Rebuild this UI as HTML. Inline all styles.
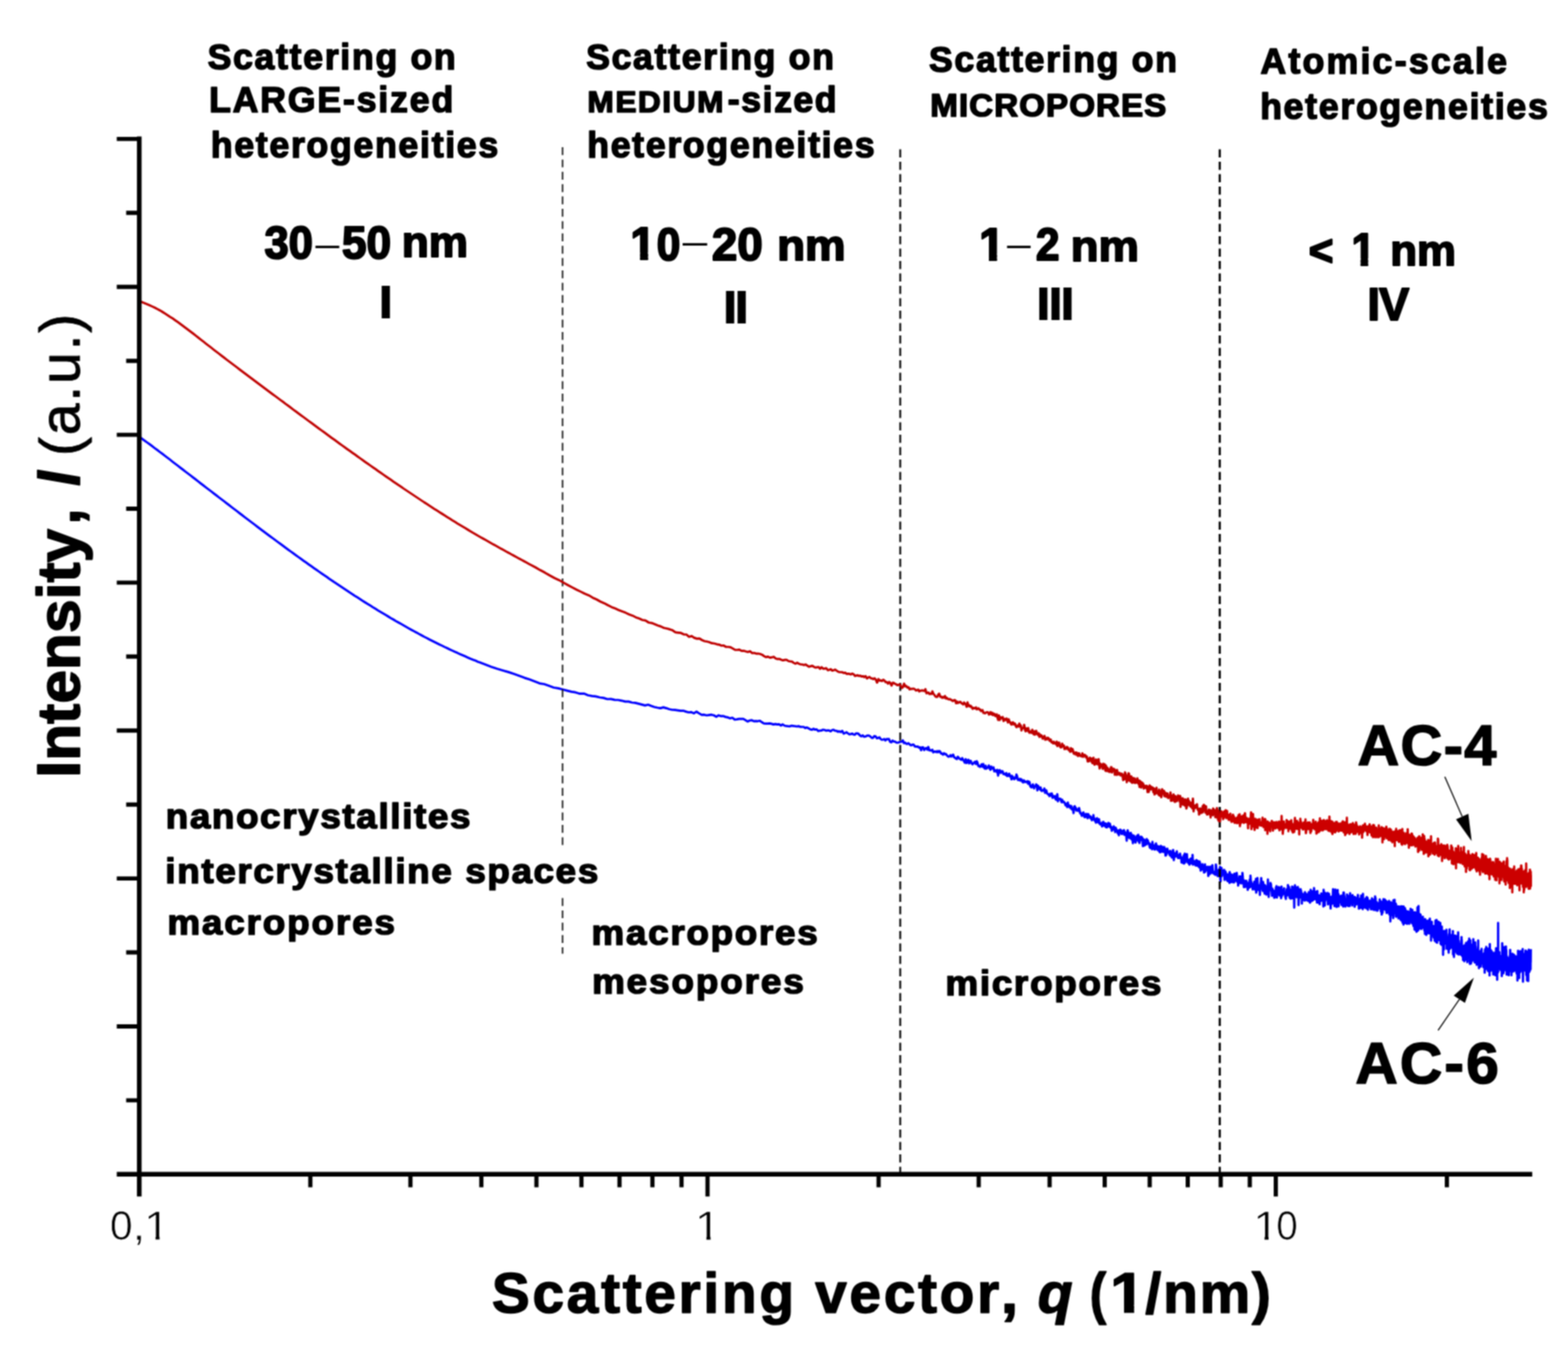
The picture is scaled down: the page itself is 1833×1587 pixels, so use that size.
<!DOCTYPE html>
<html lang="en"><head><meta charset="utf-8"><title>Intensity, I (a.u.) vs Scattering vector, q (1/nm): AC-4 and AC-6</title>
<style>
html,body{margin:0;padding:0;background:#fff;}
body{width:1833px;height:1587px;overflow:hidden;}
svg{display:block;}
svg text{font-family:"Liberation Sans", sans-serif;white-space:pre;}
</style></head>
<body>
<svg width="1833" height="1587" viewBox="0 0 1833 1587">
<filter id="soft" filterUnits="userSpaceOnUse" x="0" y="0" width="1833" height="1587" color-interpolation-filters="sRGB"><feConvolveMatrix order="3" kernelMatrix="1 2 1 2 4 2 1 2 1" divisor="16" edgeMode="duplicate" preserveAlpha="true"/></filter>
<g filter="url(#soft)">
<rect x="-20" y="-20" width="1873" height="1627" fill="#fff"/>
<path d="M162.9 510.5L165.9 512.7L168.9 514.8L171.9 517.0L174.9 519.2L177.9 521.4L180.9 523.7L183.9 525.9L186.9 528.2L189.9 530.4L192.9 532.7L195.9 535.0L198.9 537.3L201.9 539.7L204.9 542.0L207.9 544.3L210.9 546.6L213.9 548.9L216.9 551.2L219.9 553.5L222.9 555.8L225.9 558.1L228.9 560.4L231.9 562.7L234.9 565.1L237.9 567.4L240.9 569.7L243.9 572.0L246.9 574.3L249.9 576.6L252.9 578.9L255.9 581.2L258.9 583.5L261.9 585.8L264.9 588.1L267.9 590.4L270.9 592.7L273.9 595.0L276.9 597.3L279.9 599.6L282.9 601.9L285.9 604.2L288.9 606.5L291.9 608.8L294.9 611.0L297.9 613.3L300.9 615.6L303.9 617.8L306.9 620.1L309.9 622.3L312.9 624.6L315.9 626.8L318.9 629.0L321.9 631.3L324.9 633.5L327.9 635.7L330.9 637.9L333.9 640.1L336.9 642.3L339.9 644.5L342.9 646.7L345.9 648.8L348.9 651.0L351.9 653.2L354.9 655.3L357.9 657.4L360.9 659.6L363.9 661.7L366.9 663.8L369.9 665.9L372.9 668.0L375.9 670.1L378.9 672.2L381.9 674.2L384.9 676.3L387.9 678.3L390.9 680.4L393.9 682.4L396.9 684.4L399.9 686.4L402.9 688.4L405.9 690.4L408.9 692.4L411.9 694.3L414.9 696.3L417.9 698.2L420.9 700.1L423.9 702.1L426.9 704.0L429.9 705.8L432.9 707.7L435.9 709.6L438.9 711.4L441.9 713.3L444.9 715.1L447.9 716.9L450.9 718.7L453.9 720.5L456.9 722.3L459.9 724.0L462.9 725.8L465.9 727.5L468.9 729.2L471.9 730.9L474.9 732.6L477.9 734.3L480.9 736.0L483.9 737.6L486.9 739.2L489.9 740.9L492.9 742.5L495.9 744.1L498.9 745.6L501.9 747.2L504.9 748.7L507.9 750.2L510.9 751.7L513.9 753.2L516.9 754.6L519.9 756.1L522.9 757.5L525.9 759.0L528.9 760.4L531.9 761.8L534.9 763.1L537.9 764.5L540.9 765.8L543.9 767.1L546.9 768.4L549.9 769.7L552.9 770.9L555.9 772.1L558.9 773.4L560.0 773.8L567.2 776.6L574.2 779.2L581.1 781.5L587.7 783.5L594.3 785.4L600.7 787.5L606.9 789.8L613.1 792.1L619.1 794.0L624.9 796.3L630.7 798.6L636.3 799.5L641.9 801.5L647.3 803.5L652.6 804.4L657.9 805.7L663.0 807.1L668.1 808.4L673.0 809.2L677.9 810.7L682.7 810.6L687.4 812.5L692.1 813.3L696.6 813.9L701.1 815.0L705.6 815.6L709.9 817.0L714.2 816.9L718.5 817.9L722.6 818.0L726.7 818.8L730.8 819.9L734.8 819.9L738.7 821.0L742.6 821.4L746.5 822.4L750.3 823.4L754.0 824.4L757.7 823.5L761.4 825.0L765.0 826.2L768.5 827.0L772.0 827.6L775.5 826.6L778.9 827.6L782.3 828.8L785.7 829.5L789.0 829.7L792.2 830.2L795.5 830.7L798.7 830.5L801.9 831.6L805.0 832.5L808.1 832.2L811.1 833.6L814.2 831.6L817.2 833.6L820.2 835.3L823.1 835.2L826.0 836.0L828.9 835.6L831.7 835.2L834.6 836.0L837.4 837.7L840.1 835.9L842.9 836.9L845.6 836.8L848.3 837.9L851.0 838.4L853.6 839.4L856.2 838.8L858.8 840.9L861.4 840.6L863.9 840.1L866.5 840.1L869.0 840.1L871.5 841.6L873.9 843.2L876.4 842.0L878.8 841.7L881.2 842.8L883.6 842.7L885.9 842.8L888.3 842.3L890.6 844.0L892.9 845.4L895.2 845.6L897.5 845.7L899.7 845.4L901.9 845.9L904.2 846.6L906.4 846.1L908.6 846.6L910.7 846.4L912.9 847.8L915.0 846.5L917.1 848.0L919.2 848.4L921.3 848.7L923.4 848.8L925.4 848.1L927.5 848.3L929.5 848.7L931.5 849.0L933.5 848.6L935.5 849.4L937.5 849.5L939.5 849.5L941.4 850.8L943.3 850.1L945.3 851.2L947.2 852.4L949.1 852.8L951.0 851.7L952.8 852.7L954.7 852.3L956.5 854.3L958.4 853.9L960.2 853.7L962.0 852.8L963.8 853.0L965.6 853.9L967.4 853.6L969.2 853.7L970.9 854.7L972.7 853.2L974.4 852.8L976.1 853.9L977.8 854.0L979.5 855.1L981.2 854.6L982.9 855.5L984.6 854.1L986.3 857.4L987.9 856.6L989.6 855.7L991.2 857.0L992.8 858.1L994.5 857.9L996.1 857.3L997.7 858.2L999.3 858.7L1000.8 857.0L1002.4 857.0L1004.0 858.0L1005.5 859.7L1007.1 860.4L1008.6 859.4L1010.2 861.0L1011.7 860.7L1013.2 859.9L1014.7 859.5L1016.2 859.9L1017.7 860.8L1019.2 862.4L1020.7 862.1L1022.2 860.2L1023.6 860.5L1025.1 862.8L1026.5 862.5L1028.0 861.6L1029.4 863.5L1030.8 864.5L1032.3 864.2L1033.7 863.7L1035.1 865.3L1036.5 863.7L1037.9 863.8L1039.2 863.7L1040.6 867.0L1042.0 867.5L1043.4 865.5L1044.7 866.4L1046.1 866.6L1047.4 867.4L1048.8 868.0L1050.1 867.7L1051.4 867.2L1052.8 867.0L1054.1 866.7L1055.4 865.2L1056.7 868.4L1058.0 867.8L1059.3 869.1L1060.6 869.3L1061.8 868.5L1063.1 869.5L1064.4 870.9L1065.7 870.9L1066.9 870.0L1068.2 870.4L1069.4 872.3L1070.7 872.3L1071.9 872.7L1073.1 872.4L1074.4 873.8L1075.6 873.4L1076.8 876.7L1078.0 873.3L1079.2 873.4L1080.4 876.6L1081.6 874.8L1082.8 874.2L1084.0 876.1L1085.2 872.9L1086.4 876.8L1087.5 876.6L1088.7 877.2L1089.9 876.2L1091.0 879.2L1092.2 878.3L1093.3 878.2L1094.5 879.0L1095.6 877.8L1096.7 879.0L1097.9 877.6L1099.0 878.4L1100.1 880.6L1101.2 880.7L1102.3 881.9L1103.5 880.3L1104.6 881.4L1105.7 881.0L1106.8 882.6L1107.8 883.6L1108.9 884.3L1110.0 884.0L1111.1 882.5L1112.2 884.2L1113.2 882.8L1114.3 881.9L1115.4 885.1L1116.4 885.3L1117.5 886.5L1118.6 887.0L1119.6 884.4L1120.6 885.2L1121.7 886.8L1122.7 887.2L1123.8 888.0L1124.8 885.9L1125.8 887.7L1126.8 889.3L1127.9 891.4L1128.9 887.2L1129.9 891.7L1130.9 889.2L1131.9 887.9L1132.9 892.2L1133.9 889.0L1134.9 889.2L1135.9 892.3L1136.9 893.1L1137.9 891.9L1138.8 891.1L1139.8 890.2L1140.8 892.9L1141.8 889.6L1142.7 891.2L1143.7 895.3L1144.6 894.9L1145.6 896.2L1146.6 895.2L1147.5 893.2L1148.5 896.0L1149.4 892.8L1150.3 896.9L1151.3 898.2L1152.2 894.9L1153.2 898.3L1154.1 897.1L1155.0 897.1L1155.9 894.6L1156.9 897.7L1157.8 899.6L1158.7 895.8L1159.6 898.1L1160.5 898.0L1161.4 896.8L1162.3 901.4L1163.2 900.0L1164.1 900.3L1165.0 902.1L1165.9 899.7L1166.8 906.4L1167.7 900.7L1168.6 899.9L1169.5 903.1L1170.3 903.0L1171.2 901.1L1172.1 901.5L1173.0 904.6L1173.8 904.0L1174.7 904.5L1175.6 905.6L1176.4 903.5L1177.3 906.9L1178.1 905.1L1179.0 906.6L1179.8 904.2L1180.7 907.3L1181.5 906.8L1182.4 910.8L1183.2 906.7L1184.1 909.9L1184.9 908.7L1185.7 910.6L1186.6 908.7L1187.4 909.4L1188.2 905.2L1189.0 907.1L1189.9 911.4L1190.7 910.7L1191.5 911.6L1192.3 910.2L1193.1 912.3L1193.9 910.7L1194.7 911.6L1195.5 914.1L1196.3 914.3L1197.1 912.0L1197.9 913.2L1198.7 913.9L1199.5 913.6L1200.3 914.0L1201.1 912.9L1201.9 916.0L1202.7 913.5L1203.5 914.0L1204.3 918.4L1205.0 919.7L1205.8 920.2L1206.6 917.9L1207.4 916.7L1208.1 919.4L1208.9 921.3L1209.7 919.1L1210.4 918.6L1211.2 916.7L1212.0 917.1L1212.7 923.6L1213.5 918.3L1214.2 920.1L1215.0 921.2L1215.7 922.6L1216.5 920.2L1217.2 924.0L1218.0 924.4L1218.7 923.9L1219.5 923.1L1220.2 923.9L1220.9 921.5L1221.7 926.6L1222.4 924.9L1223.1 923.7L1223.9 926.6L1224.6 928.0L1225.3 928.1L1226.1 929.0L1226.8 930.4L1227.5 927.7L1228.2 929.4L1228.9 930.0L1229.6 927.2L1230.4 932.3L1231.1 930.1L1231.8 931.5L1232.5 932.0L1233.2 930.3L1233.9 933.8L1234.6 934.5L1235.3 933.4L1236.0 928.0L1236.7 936.4L1237.4 934.0L1238.1 933.4L1238.8 933.9L1239.5 933.4L1240.2 935.2L1240.9 937.4L1241.6 934.5L1242.2 937.5L1242.9 936.3L1243.6 937.4L1244.3 937.6L1245.0 939.3L1245.6 941.0L1246.3 939.5L1247.0 941.6L1247.7 943.2L1248.3 937.9L1249.0 942.6L1249.7 940.9L1250.3 941.5L1251.0 944.2L1251.7 942.2L1252.3 941.8L1253.0 945.9L1253.6 945.9L1254.3 945.0L1255.0 950.2L1255.6 943.0L1256.3 942.1L1256.9 945.3L1257.6 943.9L1258.2 947.2L1258.9 945.7L1259.5 946.0L1260.1 947.6L1260.8 946.2L1261.4 944.4L1262.1 947.2L1262.7 950.4L1263.3 949.8L1264.0 951.6L1264.6 953.4L1265.2 952.1L1265.9 950.6L1266.5 949.5L1267.1 952.3L1267.8 955.0L1268.4 955.0L1269.0 954.3L1269.6 951.0L1270.3 954.2L1270.9 954.8L1271.5 956.2L1272.1 951.3L1272.7 952.8L1273.3 954.9L1274.0 955.2L1274.6 953.9L1275.2 956.6L1275.8 955.2L1276.4 958.6L1277.0 955.4L1277.6 957.2L1278.2 952.6L1278.8 957.9L1279.4 956.3L1280.0 959.6L1280.6 958.0L1281.2 961.4L1281.8 957.8L1282.4 956.1L1283.0 960.1L1283.6 961.1L1284.2 958.5L1284.8 957.5L1285.4 962.4L1286.0 963.4L1286.5 962.9L1287.1 961.8L1287.7 961.9L1288.3 965.9L1288.9 964.3L1289.5 960.6L1290.0 960.5L1290.6 964.7L1291.2 965.2L1291.8 962.4L1292.4 962.4L1292.9 966.6L1293.5 963.9L1294.1 966.9L1294.7 962.6L1295.2 963.2L1295.8 961.7L1296.4 965.9L1296.9 965.3L1297.5 962.6L1298.1 967.2L1298.6 965.8L1299.2 966.8L1299.7 970.9L1300.3 970.2L1300.9 969.3L1301.4 967.5L1302.0 965.7L1302.5 967.3L1303.1 968.2L1303.6 972.4L1304.2 967.3L1304.7 968.5L1305.3 970.1L1305.8 971.3L1306.4 973.2L1306.9 974.1L1307.5 970.7L1308.0 976.1L1308.6 973.2L1309.1 969.8L1309.7 969.6L1310.2 971.2L1310.7 971.9L1311.3 974.7L1311.8 970.9L1312.4 971.8L1312.9 971.3L1313.4 974.4L1314.0 970.2L1314.5 975.6L1315.0 972.4L1315.6 974.1L1316.1 976.0L1316.6 975.8L1317.1 982.5L1317.7 973.2L1318.2 970.4L1318.7 972.6L1319.2 978.4L1319.8 973.7L1320.3 979.4L1320.8 976.3L1321.3 979.1L1321.9 973.4L1322.4 980.3L1322.9 980.9L1323.4 975.6L1323.9 981.7L1324.4 985.4L1325.0 978.7L1325.5 976.5L1326.0 977.6L1326.5 978.6L1327.0 982.3L1327.5 984.7L1328.0 978.9L1328.5 979.7L1329.0 976.8L1329.5 979.3L1330.0 982.2L1330.6 975.7L1331.1 983.2L1331.6 984.0L1332.1 985.1L1332.6 980.4L1333.1 977.9L1333.6 981.7L1334.1 979.8L1334.6 978.0L1335.1 981.0L1335.5 979.4L1336.0 988.8L1336.5 985.8L1337.0 986.3L1337.5 981.0L1338.0 988.1L1338.5 983.5L1339.0 987.1L1339.5 982.1L1340.0 986.9L1340.5 980.7L1340.9 985.1L1341.4 985.1L1341.9 982.1L1342.4 986.2L1342.9 984.8L1343.4 985.4L1343.8 988.9L1344.3 990.6L1344.8 986.6L1345.3 991.0L1345.8 990.4L1346.2 989.9L1346.7 992.5L1347.2 983.9L1347.7 992.2L1348.1 989.7L1348.6 987.7L1349.1 988.5L1349.6 992.1L1350.0 992.9L1350.5 991.7L1351.0 986.4L1351.4 985.7L1351.9 990.3L1352.4 992.2L1352.8 988.6L1353.3 993.4L1353.8 992.8L1354.2 992.6L1354.7 989.1L1355.2 995.2L1355.6 994.6L1356.1 996.0L1356.6 993.3L1357.0 988.6L1357.5 993.7L1357.9 995.3L1358.4 992.5L1358.8 989.7L1359.3 995.0L1359.8 995.5L1360.2 990.0L1360.7 991.8L1361.1 989.8L1361.6 995.3L1362.0 995.0L1362.5 999.9L1362.9 992.1L1363.4 999.1L1363.8 994.6L1364.3 996.3L1364.7 991.9L1365.2 995.9L1365.6 994.4L1366.1 995.9L1366.5 997.0L1366.9 998.1L1367.4 999.3L1367.8 996.9L1368.3 994.4L1368.7 1000.5L1369.2 997.8L1369.6 995.9L1370.0 1002.2L1370.5 999.0L1370.9 1000.6L1371.4 993.3L1371.8 996.8L1372.2 1005.2L1372.7 1000.6L1373.1 1000.8L1373.5 997.2L1374.0 999.2L1374.4 1001.0L1374.8 999.8L1375.3 999.8L1375.7 994.9L1376.1 998.0L1376.6 999.3L1377.0 1002.7L1377.4 1002.7L1377.8 1001.2L1378.3 999.2L1378.7 999.3L1379.1 1002.6L1379.5 997.7L1380.0 1001.5L1380.4 1001.4L1380.8 1001.7L1381.2 1008.0L1381.7 1002.4L1382.1 1005.8L1382.5 1008.4L1382.9 1005.1L1383.4 1003.6L1383.8 999.7L1384.2 1009.2L1384.6 1000.6L1385.0 997.7L1385.4 1007.9L1385.9 999.9L1386.3 1000.9L1386.7 1002.7L1387.1 1001.3L1387.5 998.2L1387.9 1006.1L1388.3 1007.2L1388.8 1008.3L1389.2 1005.9L1389.6 1004.8L1390.0 1004.6L1390.4 1010.5L1390.8 1009.4L1391.2 1005.4L1391.6 1008.0L1392.0 1003.3L1392.4 1009.0L1392.8 1003.9L1393.2 1007.2L1393.7 1007.0L1394.1 999.1L1394.5 1010.4L1394.9 1008.2L1395.3 1005.9L1395.7 1006.2L1396.1 1008.5L1396.5 1008.4L1396.9 1010.6L1397.3 1009.8L1397.7 1011.5L1398.1 1010.5L1398.5 1005.1L1398.9 1005.3L1399.3 1011.7L1399.7 1011.6L1400.1 1010.5L1400.5 1006.3L1400.9 1008.4L1401.2 1008.3L1401.6 1013.4L1402.0 1008.6L1402.4 1006.9L1402.8 1009.0L1403.2 1012.9L1403.6 1017.4L1404.0 1010.5L1404.4 1016.1L1404.8 1011.0L1405.2 1011.2L1405.6 1009.9L1405.9 1015.7L1406.3 1011.5L1406.7 1016.6L1407.1 1012.1L1407.5 1019.6L1407.9 1014.6L1408.3 1014.2L1408.6 1010.1L1409.0 1018.8L1409.4 1015.6L1409.8 1015.0L1410.2 1014.9L1410.6 1013.3L1410.9 1013.4L1411.3 1016.6L1411.7 1012.8L1412.1 1015.2L1412.5 1023.7L1412.8 1015.6L1413.2 1015.2L1413.6 1019.5L1414.0 1013.1L1414.4 1021.5L1414.7 1016.8L1415.1 1012.9L1415.5 1016.6L1415.9 1014.8L1416.2 1019.8L1416.6 1015.9L1417.0 1020.2L1417.3 1011.1L1417.7 1016.5L1418.1 1020.2L1418.5 1020.1L1418.8 1018.7L1419.2 1021.2L1419.6 1021.5L1419.9 1018.9L1420.3 1019.8L1420.7 1022.4L1421.1 1019.9L1421.4 1010.4L1421.8 1014.0L1422.2 1017.4L1422.5 1022.3L1422.9 1020.3L1423.3 1022.5L1423.6 1023.9L1424.0 1022.4L1424.3 1017.2L1424.7 1023.7L1425.1 1016.0L1425.4 1016.4L1425.8 1019.5L1426.2 1013.1L1426.5 1027.4L1426.9 1030.0L1427.2 1021.0L1427.6 1020.3L1428.0 1014.3L1428.3 1023.8L1428.7 1019.5L1429.0 1017.8L1429.4 1017.3L1429.8 1022.0L1430.1 1021.7L1430.5 1022.2L1430.8 1020.5L1431.2 1016.6L1431.5 1028.3L1431.9 1026.1L1432.2 1021.1L1432.6 1018.5L1433.0 1019.9L1433.3 1026.2L1433.7 1025.7L1434.0 1025.0L1434.4 1028.5L1434.7 1022.2L1435.1 1029.6L1435.4 1025.1L1435.8 1021.8L1436.1 1026.6L1436.5 1026.1L1436.8 1022.4L1437.2 1031.8L1437.5 1019.2L1437.9 1026.4L1438.2 1027.1L1438.6 1023.0L1438.9 1026.0L1439.2 1030.8L1439.6 1021.9L1439.9 1022.2L1440.3 1025.1L1440.6 1028.4L1441.0 1030.8L1441.3 1028.9L1441.7 1022.7L1442.0 1031.1L1442.3 1029.8L1442.7 1031.1L1443.0 1021.1L1443.4 1021.1L1443.7 1025.0L1444.0 1025.9L1444.4 1027.7L1444.7 1023.7L1445.1 1023.9L1445.4 1029.6L1445.7 1020.1L1446.1 1023.8L1446.4 1028.4L1446.8 1031.3L1447.1 1029.6L1447.4 1034.8L1447.8 1030.0L1448.1 1031.6L1448.4 1032.1L1448.8 1029.3L1449.1 1024.2L1449.4 1028.3L1449.8 1028.7L1450.1 1026.2L1450.4 1032.2L1450.8 1027.7L1451.1 1024.2L1451.4 1029.9L1451.8 1026.2L1452.1 1032.2L1452.4 1020.2L1452.8 1023.8L1453.1 1030.5L1453.4 1031.5L1453.7 1031.0L1454.1 1036.6L1454.4 1029.9L1454.7 1029.0L1455.1 1034.3L1455.4 1029.9L1455.7 1032.8L1456.0 1036.3L1456.4 1030.9L1456.7 1031.2L1457.0 1029.4L1457.3 1033.3L1457.7 1034.3L1458.0 1036.1L1458.3 1034.8L1458.6 1040.0L1459.0 1033.0L1459.3 1033.0L1459.6 1031.5L1459.9 1037.7L1460.2 1033.2L1460.6 1031.9L1460.9 1028.0L1461.2 1032.7L1461.5 1036.7L1461.8 1023.3L1462.2 1029.2L1462.5 1030.0L1462.8 1030.5L1463.1 1034.0L1463.4 1032.4L1463.8 1034.5L1464.1 1035.3L1464.4 1039.5L1464.7 1033.3L1465.0 1035.8L1465.3 1033.6L1465.7 1035.3L1466.0 1033.4L1466.3 1030.3L1466.6 1036.5L1466.9 1039.3L1467.2 1031.4L1467.5 1035.1L1467.9 1035.2L1468.2 1027.0L1468.5 1043.2L1468.8 1041.4L1469.1 1040.3L1469.4 1039.7L1469.7 1032.5L1470.0 1026.2L1470.3 1035.8L1470.7 1036.4L1471.0 1035.1L1471.3 1034.5L1471.6 1040.3L1471.9 1039.6L1472.2 1036.5L1472.5 1034.6L1472.8 1045.8L1473.1 1040.1L1473.4 1037.3L1473.7 1031.8L1474.0 1030.9L1474.4 1026.0L1474.7 1036.2L1475.0 1038.5L1475.3 1036.7L1475.6 1037.5L1475.9 1038.5L1476.2 1041.0L1476.5 1030.6L1476.8 1032.8L1477.1 1041.4L1477.4 1039.1L1477.7 1040.1L1478.0 1034.1L1478.3 1044.3L1478.6 1038.8L1478.9 1037.4L1479.2 1034.9L1479.5 1039.3L1479.8 1039.3L1480.1 1038.2L1480.4 1045.4L1480.7 1043.7L1481.0 1038.9L1481.3 1036.7L1481.6 1037.3L1481.9 1040.6L1482.2 1027.9L1482.5 1040.6L1482.8 1038.5L1483.1 1048.2L1483.4 1041.4L1483.7 1039.0L1484.0 1040.0L1484.3 1037.3L1484.6 1037.1L1484.9 1039.7L1485.2 1031.8L1485.5 1040.2L1485.8 1033.3L1486.0 1037.3L1486.3 1037.3L1486.6 1043.3L1486.9 1046.9L1487.2 1046.4L1487.5 1038.6L1487.8 1039.7L1488.1 1040.9L1488.4 1041.5L1488.7 1045.5L1489.0 1043.7L1489.3 1041.0L1489.6 1049.1L1489.8 1044.9L1490.1 1048.9L1490.4 1041.0L1490.7 1043.7L1491.0 1042.8L1491.3 1042.2L1491.6 1037.2L1491.9 1042.6L1492.2 1035.6L1492.4 1043.3L1492.7 1049.0L1493.0 1046.6L1493.3 1043.1L1493.6 1040.7L1493.9 1045.2L1494.2 1037.7L1494.4 1037.1L1494.7 1036.7L1495.0 1043.8L1495.3 1036.8L1495.6 1044.8L1495.9 1046.6L1496.2 1045.3L1496.4 1042.0L1496.7 1044.3L1497.0 1037.5L1497.3 1043.4L1497.6 1049.6L1497.9 1048.8L1498.1 1036.1L1498.4 1042.5L1498.7 1041.4L1499.0 1046.7L1499.3 1044.1L1499.5 1042.6L1499.8 1040.3L1500.1 1043.7L1500.4 1042.5L1500.7 1043.4L1500.9 1042.6L1501.2 1038.1L1501.5 1045.0L1501.8 1045.2L1502.1 1044.3L1502.3 1044.5L1502.6 1048.6L1502.9 1048.1L1503.2 1050.5L1503.4 1046.5L1503.7 1047.2L1504.0 1043.9L1504.3 1039.4L1504.5 1038.9L1504.8 1046.0L1505.1 1044.4L1505.4 1046.2L1505.6 1034.3L1505.9 1043.1L1506.2 1044.5L1506.5 1042.4L1506.7 1042.9L1507.0 1036.5L1507.3 1043.6L1507.6 1049.3L1507.8 1039.3L1508.1 1046.4L1508.4 1041.1L1508.7 1044.9L1508.9 1050.2L1509.2 1044.5L1509.5 1045.9L1509.7 1047.1L1510.0 1044.3L1510.3 1049.7L1510.5 1036.1L1510.8 1043.2L1511.1 1036.6L1511.4 1038.3L1511.6 1044.6L1511.9 1039.7L1512.2 1043.1L1512.4 1050.5L1512.7 1047.1L1513.0 1060.6L1513.2 1044.5L1513.5 1045.3L1513.8 1034.7L1514.0 1045.0L1514.3 1043.2L1514.6 1047.2L1514.8 1045.4L1515.1 1042.5L1515.4 1037.1L1515.6 1048.5L1515.9 1042.4L1516.2 1038.1L1516.4 1047.0L1516.7 1037.0L1517.0 1042.8L1517.2 1036.7L1517.5 1044.2L1517.7 1038.3L1518.0 1057.7L1518.3 1050.2L1518.5 1047.5L1518.8 1047.0L1519.1 1048.3L1519.3 1049.2L1519.6 1046.8L1519.8 1041.1L1520.1 1046.4L1520.4 1039.1L1520.6 1044.2L1520.9 1047.5L1521.1 1041.2L1521.4 1047.7L1521.7 1043.9L1521.9 1056.0L1522.2 1044.4L1522.4 1048.1L1522.7 1048.7L1523.0 1046.7L1523.2 1047.5L1523.5 1045.1L1523.7 1046.8L1524.0 1047.0L1524.3 1049.8L1524.5 1051.8L1524.8 1046.4L1525.0 1052.5L1525.3 1046.6L1525.5 1042.6L1525.8 1044.8L1526.1 1043.9L1526.3 1045.8L1526.6 1047.1L1526.8 1047.8L1527.1 1051.9L1527.3 1050.1L1527.6 1045.2L1527.8 1049.3L1528.1 1046.7L1528.3 1050.3L1528.6 1052.3L1528.9 1046.6L1529.1 1050.4L1529.4 1053.0L1529.6 1048.8L1529.9 1042.6L1530.1 1046.8L1530.4 1043.5L1530.6 1051.6L1530.9 1048.2L1531.1 1048.7L1531.4 1054.9L1531.6 1050.6L1531.9 1048.1L1532.1 1039.8L1532.4 1045.3L1532.6 1044.6L1532.9 1046.7L1533.1 1042.3L1533.4 1050.2L1533.6 1052.9L1533.9 1046.1L1534.1 1041.5L1534.4 1048.1L1534.6 1046.7L1534.9 1052.0L1535.1 1047.5L1535.4 1044.6L1535.6 1041.9L1535.9 1047.9L1536.1 1037.9L1536.4 1043.2L1536.6 1050.9L1536.8 1047.3L1537.1 1047.8L1537.3 1047.0L1537.6 1042.1L1537.8 1046.4L1538.1 1050.0L1538.3 1050.3L1538.6 1043.7L1538.8 1048.4L1539.1 1052.1L1539.3 1049.2L1539.5 1054.6L1539.8 1048.3L1540.0 1041.3L1540.3 1048.2L1540.5 1049.0L1540.8 1051.2L1541.0 1050.5L1541.3 1054.8L1541.5 1051.0L1541.7 1049.3L1542.0 1046.3L1542.2 1047.5L1542.5 1054.0L1542.7 1056.6L1542.9 1050.1L1543.2 1049.4L1543.4 1047.8L1543.7 1049.7L1543.9 1048.9L1544.1 1046.6L1544.4 1052.6L1544.6 1044.1L1544.9 1049.4L1545.1 1049.5L1545.3 1051.6L1545.6 1048.2L1545.8 1044.8L1546.1 1048.5L1546.3 1044.6L1546.5 1047.4L1546.8 1045.7L1547.0 1059.3L1547.3 1039.8L1547.5 1043.9L1547.7 1054.3L1548.0 1048.2L1548.2 1043.3L1548.4 1051.8L1548.7 1058.1L1548.9 1049.3L1549.2 1052.9L1549.4 1043.6L1549.6 1046.8L1549.9 1050.2L1550.1 1050.1L1550.3 1046.5L1550.6 1046.9L1550.8 1046.8L1551.0 1046.1L1551.3 1047.1L1551.5 1047.1L1551.7 1051.4L1552.0 1043.5L1552.2 1051.6L1552.4 1057.0L1552.7 1050.3L1552.9 1047.6L1553.1 1045.7L1553.4 1047.5L1553.6 1044.6L1553.8 1050.8L1554.1 1049.3L1554.3 1053.0L1554.5 1050.9L1554.8 1053.2L1555.0 1056.3L1555.2 1054.0L1555.5 1061.7L1555.7 1054.9L1555.9 1048.2L1556.2 1052.8L1556.4 1053.5L1556.6 1050.7L1556.8 1053.5L1557.1 1052.8L1557.3 1056.1L1557.5 1049.9L1557.8 1046.5L1558.0 1048.6L1558.2 1042.3L1558.4 1039.2L1558.7 1046.0L1558.9 1048.2L1559.1 1047.5L1559.4 1055.5L1559.6 1045.8L1559.8 1045.3L1560.0 1058.9L1560.3 1043.9L1560.5 1053.8L1560.7 1050.1L1561.0 1039.7L1561.2 1054.8L1561.4 1049.2L1561.6 1052.3L1561.9 1051.6L1562.1 1052.1L1562.3 1054.6L1562.5 1060.0L1562.8 1051.9L1563.0 1050.0L1563.2 1054.7L1563.4 1052.9L1563.7 1040.1L1563.9 1052.8L1564.1 1049.2L1564.3 1049.9L1564.6 1044.8L1564.8 1059.1L1565.0 1053.1L1565.2 1049.1L1565.5 1049.2L1565.7 1050.2L1565.9 1050.6L1566.1 1054.4L1566.3 1052.8L1566.6 1048.9L1566.8 1050.1L1567.0 1053.8L1567.2 1047.0L1567.5 1049.5L1567.7 1055.3L1567.9 1051.3L1568.1 1057.5L1568.3 1046.5L1568.6 1049.5L1568.8 1048.0L1569.0 1047.8L1569.2 1054.7L1569.4 1056.1L1569.7 1052.0L1569.9 1051.1L1570.1 1059.3L1570.3 1058.6L1570.5 1043.0L1570.8 1051.5L1571.0 1043.2L1571.2 1045.3L1571.4 1049.0L1571.6 1047.0L1571.9 1054.5L1572.1 1050.1L1572.3 1051.0L1572.5 1051.6L1572.7 1059.4L1572.9 1053.4L1573.2 1056.0L1573.4 1054.3L1573.6 1057.3L1573.8 1052.4L1574.0 1051.9L1574.2 1057.7L1574.5 1053.0L1574.7 1045.4L1574.9 1046.9L1575.1 1050.4L1575.3 1054.5L1575.5 1049.1L1575.8 1058.8L1576.0 1054.2L1576.2 1051.3L1576.4 1047.2L1576.6 1055.5L1576.8 1055.1L1577.0 1047.6L1577.3 1058.2L1577.5 1057.8L1577.7 1058.9L1577.9 1052.5L1578.1 1056.6L1578.3 1043.9L1578.5 1054.4L1578.8 1050.9L1579.0 1052.3L1579.2 1054.6L1579.4 1049.7L1579.6 1051.9L1579.8 1048.5L1580.0 1049.4L1580.2 1048.0L1580.5 1054.3L1580.7 1058.2L1580.9 1048.7L1581.1 1046.0L1581.3 1051.9L1581.5 1054.6L1581.7 1054.0L1581.9 1047.9L1582.1 1052.9L1582.4 1049.4L1582.6 1051.2L1582.8 1052.4L1583.0 1051.2L1583.2 1055.0L1583.4 1050.9L1583.6 1059.6L1583.8 1053.6L1584.0 1048.4L1584.2 1057.4L1584.5 1056.9L1584.7 1054.4L1584.9 1053.3L1585.1 1054.8L1585.3 1057.0L1585.5 1052.9L1585.7 1056.9L1585.9 1051.0L1586.1 1055.6L1586.3 1049.3L1586.5 1055.0L1586.7 1056.0L1586.9 1051.3L1587.2 1055.2L1587.4 1045.8L1587.6 1053.3L1587.8 1052.6L1588.0 1056.4L1588.2 1053.7L1588.4 1058.2L1588.6 1062.0L1588.8 1054.4L1589.0 1057.7L1589.2 1061.1L1589.4 1058.1L1589.6 1058.8L1589.8 1053.3L1590.0 1055.9L1590.2 1050.0L1590.4 1058.0L1590.7 1056.2L1590.9 1056.2L1591.1 1046.6L1591.3 1058.9L1591.5 1061.0L1591.7 1060.5L1591.9 1056.6L1592.1 1060.4L1592.3 1055.0L1592.5 1052.1L1592.7 1054.7L1592.9 1051.9L1593.1 1062.4L1593.3 1044.6L1593.5 1056.1L1593.7 1051.5L1593.9 1052.8L1594.1 1058.1L1594.3 1054.8L1594.5 1059.7L1594.7 1054.6L1594.9 1054.7L1595.1 1055.6L1595.3 1060.5L1595.5 1052.4L1595.7 1053.9L1595.9 1053.0L1596.1 1053.4L1596.3 1050.2L1596.5 1054.1L1596.7 1057.2L1596.9 1061.3L1597.1 1057.4L1597.3 1053.0L1597.5 1061.5L1597.7 1048.3L1597.9 1057.6L1598.1 1050.5L1598.3 1055.1L1598.5 1050.0L1598.7 1049.3L1598.9 1053.4L1599.1 1063.2L1599.3 1057.3L1599.5 1059.6L1599.7 1054.5L1599.9 1056.0L1600.1 1052.7L1600.3 1053.5L1600.5 1054.7L1600.7 1060.1L1600.9 1057.5L1601.1 1053.1L1601.3 1055.5L1601.5 1052.6L1601.7 1058.5L1601.9 1057.4L1602.1 1057.4L1602.3 1059.4L1602.5 1058.9L1602.7 1062.7L1602.9 1053.4L1603.1 1059.8L1603.3 1056.0L1603.5 1060.7L1603.6 1054.7L1603.8 1049.8L1604.0 1055.1L1604.2 1054.2L1604.4 1052.3L1604.6 1055.4L1604.8 1062.0L1605.0 1055.7L1605.2 1060.1L1605.4 1063.1L1605.6 1061.6L1605.8 1059.3L1606.0 1061.3L1606.2 1055.5L1606.4 1051.8L1606.6 1050.9L1606.8 1061.5L1607.0 1063.4L1607.1 1056.3L1607.3 1057.7L1607.5 1047.6L1607.7 1060.8L1607.9 1057.2L1608.1 1049.7L1608.3 1059.9L1608.5 1060.5L1608.7 1061.5L1608.9 1057.4L1609.1 1059.1L1609.3 1054.2L1609.5 1064.2L1609.6 1056.7L1609.8 1063.7L1610.0 1060.6L1610.2 1057.3L1610.4 1064.1L1610.6 1055.5L1610.8 1060.1L1611.0 1059.2L1611.2 1058.0L1611.4 1059.5L1611.6 1061.8L1611.7 1057.1L1611.9 1056.6L1612.1 1057.9L1612.3 1056.4L1612.5 1054.5L1612.7 1060.1L1612.9 1051.2L1613.1 1058.5L1613.3 1056.8L1613.5 1059.6L1613.6 1061.0L1613.8 1060.1L1614.0 1058.9L1614.2 1064.9L1614.4 1056.7L1614.6 1053.7L1614.8 1058.1L1615.0 1062.3L1615.1 1067.3L1615.3 1068.7L1615.5 1061.1L1615.7 1064.7L1615.9 1066.9L1616.1 1057.5L1616.3 1066.5L1616.5 1061.8L1616.6 1059.3L1616.8 1062.4L1617.0 1062.9L1617.2 1050.9L1617.4 1060.4L1617.6 1061.1L1617.8 1056.9L1618.0 1060.9L1618.1 1058.4L1618.3 1056.5L1618.5 1059.7L1618.7 1051.2L1618.9 1062.2L1619.1 1062.8L1619.3 1061.8L1619.4 1062.9L1619.6 1058.5L1619.8 1057.9L1620.0 1052.5L1620.2 1052.6L1620.4 1057.1L1620.5 1064.9L1620.7 1060.6L1620.9 1066.9L1621.1 1064.3L1621.3 1056.1L1621.5 1058.1L1621.7 1055.9L1621.8 1054.2L1622.0 1062.2L1622.2 1064.1L1622.4 1056.9L1622.6 1066.1L1622.8 1065.3L1622.9 1058.6L1623.1 1062.9L1623.3 1056.9L1623.5 1061.5L1623.7 1064.0L1623.8 1052.9L1624.0 1068.5L1624.2 1053.7L1624.4 1062.2L1624.6 1059.5L1624.8 1066.0L1624.9 1057.8L1625.1 1059.7L1625.3 1076.8L1625.5 1070.2L1625.7 1066.3L1625.8 1058.9L1626.0 1064.0L1626.2 1054.5L1626.4 1058.7L1626.6 1064.5L1626.7 1066.3L1626.9 1060.9L1627.1 1066.1L1627.3 1066.7L1627.5 1058.0L1627.6 1064.0L1627.8 1062.6L1628.0 1069.8L1628.2 1057.0L1628.4 1065.2L1628.5 1062.3L1628.7 1072.9L1628.9 1052.1L1629.1 1071.4L1629.3 1062.3L1629.4 1065.9L1629.6 1056.1L1629.8 1057.1L1630.0 1062.2L1630.2 1063.9L1630.3 1051.6L1630.5 1060.4L1630.7 1061.4L1630.9 1062.9L1631.0 1067.1L1631.2 1065.3L1631.4 1062.6L1631.6 1057.9L1631.8 1056.1L1631.9 1064.5L1632.1 1071.3L1632.3 1064.3L1632.5 1068.8L1632.6 1058.7L1632.8 1069.0L1633.0 1063.5L1633.2 1065.1L1633.3 1067.9L1633.5 1068.5L1633.7 1066.1L1633.9 1066.8L1634.1 1066.6L1634.2 1061.5L1634.4 1063.5L1634.6 1065.2L1634.8 1073.3L1634.9 1059.4L1635.1 1065.8L1635.3 1070.4L1635.5 1068.9L1635.6 1060.9L1635.8 1059.3L1636.0 1063.0L1636.2 1067.3L1636.3 1069.9L1636.5 1064.8L1636.7 1066.6L1636.9 1064.1L1637.0 1061.9L1637.2 1072.3L1637.4 1075.0L1637.6 1065.6L1637.7 1062.3L1637.9 1069.8L1638.1 1059.2L1638.2 1059.9L1638.4 1067.4L1638.6 1075.9L1638.8 1064.9L1638.9 1067.2L1639.1 1074.8L1639.3 1061.1L1639.5 1059.3L1639.6 1078.2L1639.8 1072.4L1640.0 1065.4L1640.1 1070.1L1640.3 1072.1L1640.5 1066.3L1640.7 1080.5L1640.8 1059.4L1641.0 1076.1L1641.2 1069.9L1641.4 1068.9L1641.5 1069.4L1641.7 1064.9L1641.9 1067.2L1642.0 1065.8L1642.2 1061.0L1642.4 1071.5L1642.5 1061.7L1642.7 1063.6L1642.9 1078.7L1643.1 1066.1L1643.2 1076.7L1643.4 1075.7L1643.6 1070.1L1643.7 1077.1L1643.9 1066.2L1644.1 1064.6L1644.3 1066.8L1644.4 1067.4L1644.6 1071.9L1644.8 1079.6L1644.9 1065.1L1645.1 1068.1L1645.3 1069.5L1645.4 1071.1L1645.6 1068.1L1645.8 1077.0L1645.9 1067.9L1646.1 1065.1L1646.3 1078.9L1646.5 1077.6L1646.6 1070.2L1646.8 1065.7L1647.0 1071.3L1647.1 1074.4L1647.3 1078.9L1647.5 1079.5L1647.6 1069.4L1647.8 1071.4L1648.0 1070.1L1648.1 1071.5L1648.3 1068.9L1648.5 1069.4L1648.6 1070.6L1648.8 1072.1L1649.0 1062.0L1649.1 1069.5L1649.3 1075.7L1649.5 1074.2L1649.6 1075.6L1649.8 1076.0L1650.0 1075.0L1650.1 1077.8L1650.3 1072.4L1650.5 1065.9L1650.6 1079.1L1650.8 1074.4L1651.0 1063.4L1651.1 1077.2L1651.3 1077.0L1651.5 1065.8L1651.6 1075.2L1651.8 1072.7L1652.0 1075.0L1652.1 1070.1L1652.3 1082.2L1652.5 1068.2L1652.6 1067.7L1652.8 1071.1L1653.0 1073.2L1653.1 1070.5L1653.3 1081.6L1653.4 1068.2L1653.6 1086.3L1653.8 1066.1L1653.9 1076.4L1654.1 1083.5L1654.3 1086.7L1654.4 1073.1L1654.6 1066.3L1654.8 1070.6L1654.9 1071.7L1655.1 1078.3L1655.3 1069.5L1655.4 1080.0L1655.6 1069.9L1655.7 1079.4L1655.9 1089.0L1656.1 1079.4L1656.2 1081.9L1656.4 1076.6L1656.6 1074.0L1656.7 1078.7L1656.9 1079.2L1657.0 1060.4L1657.2 1071.7L1657.4 1087.7L1657.5 1079.6L1657.7 1077.5L1657.9 1074.4L1658.0 1074.5L1658.2 1075.8L1658.3 1058.9L1658.5 1086.3L1658.7 1079.0L1658.8 1072.6L1659.0 1084.3L1659.1 1076.4L1659.3 1085.0L1659.5 1073.8L1659.6 1081.9L1659.8 1068.3L1660.0 1082.3L1660.1 1069.3L1660.3 1077.8L1660.4 1080.1L1660.6 1068.9L1660.8 1078.8L1660.9 1075.6L1661.1 1078.9L1661.2 1083.8L1661.4 1078.5L1661.6 1085.6L1661.7 1074.0L1661.9 1073.4L1662.0 1084.1L1662.2 1073.1L1662.4 1081.0L1662.5 1074.3L1662.7 1078.8L1662.8 1081.5L1663.0 1075.2L1663.2 1075.5L1663.3 1071.4L1663.5 1084.2L1663.6 1074.6L1663.8 1074.3L1663.9 1079.4L1664.1 1077.8L1664.3 1075.3L1664.4 1081.8L1664.6 1080.6L1664.7 1076.2L1664.9 1077.4L1665.1 1087.4L1665.2 1080.9L1665.4 1077.5L1665.5 1079.9L1665.7 1083.7L1665.8 1091.5L1666.0 1074.1L1666.2 1083.3L1666.3 1077.9L1666.5 1082.9L1666.6 1078.1L1666.8 1077.2L1666.9 1077.2L1667.1 1078.7L1667.3 1083.3L1667.4 1092.6L1667.6 1076.2L1667.7 1077.4L1667.9 1079.5L1668.0 1091.0L1668.2 1090.8L1668.4 1090.6L1668.5 1085.7L1668.7 1082.7L1668.8 1076.1L1669.0 1083.3L1669.1 1084.8L1669.3 1080.6L1669.4 1079.6L1669.6 1076.6L1669.8 1085.8L1669.9 1082.8L1670.1 1088.9L1670.2 1080.1L1670.4 1080.4L1670.5 1090.7L1670.7 1084.5L1670.8 1075.2L1671.0 1080.0L1671.2 1078.4L1671.3 1083.3L1671.5 1073.6L1671.6 1088.5L1671.8 1088.5L1671.9 1084.2L1672.1 1084.4L1672.2 1084.5L1672.4 1082.2L1672.5 1091.5L1672.7 1079.5L1672.9 1099.2L1673.0 1079.3L1673.2 1087.3L1673.3 1080.1L1673.5 1081.4L1673.6 1085.0L1673.8 1077.3L1673.9 1089.3L1674.1 1087.4L1674.2 1089.6L1674.4 1090.9L1674.5 1081.9L1674.7 1085.6L1674.8 1085.5L1675.0 1093.5L1675.1 1086.3L1675.3 1082.1L1675.5 1089.3L1675.6 1084.9L1675.8 1092.5L1675.9 1095.6L1676.1 1093.5L1676.2 1083.2L1676.4 1093.1L1676.5 1082.8L1676.7 1085.9L1676.8 1093.8L1677.0 1089.6L1677.1 1099.3L1677.3 1093.4L1677.4 1089.8L1677.6 1095.4L1677.7 1089.4L1677.9 1096.6L1678.0 1075.9L1678.2 1088.5L1678.3 1083.7L1678.5 1088.4L1678.6 1085.9L1678.8 1100.9L1678.9 1092.9L1679.1 1088.9L1679.2 1094.9L1679.4 1075.0L1679.5 1097.9L1679.7 1077.6L1679.8 1090.8L1680.0 1101.7L1680.1 1083.3L1680.3 1084.9L1680.4 1077.0L1680.6 1079.3L1680.7 1092.1L1680.9 1091.6L1681.0 1087.9L1681.2 1093.0L1681.3 1088.1L1681.5 1085.6L1681.6 1088.7L1681.8 1084.1L1681.9 1077.4L1682.1 1089.8L1682.2 1094.0L1682.4 1098.7L1682.5 1095.5L1682.7 1090.0L1682.8 1086.9L1683.0 1091.4L1683.1 1094.1L1683.3 1091.9L1683.4 1089.3L1683.6 1094.7L1683.7 1078.6L1683.9 1096.5L1684.0 1103.1L1684.2 1085.2L1684.3 1096.6L1684.5 1090.6L1684.6 1088.6L1684.8 1097.3L1684.9 1097.2L1685.0 1092.4L1685.2 1104.2L1685.3 1096.9L1685.5 1082.8L1685.6 1103.3L1685.8 1094.8L1685.9 1103.9L1686.1 1088.2L1686.2 1088.8L1686.4 1091.7L1686.5 1096.6L1686.7 1099.1L1686.8 1090.2L1687.0 1115.8L1687.1 1089.2L1687.3 1092.5L1687.4 1107.5L1687.5 1106.7L1687.7 1104.6L1687.8 1097.7L1688.0 1096.3L1688.1 1109.4L1688.3 1087.9L1688.4 1092.1L1688.6 1096.1L1688.7 1097.1L1688.9 1102.5L1689.0 1096.8L1689.1 1098.1L1689.3 1099.1L1689.4 1094.5L1689.6 1097.9L1689.7 1089.4L1689.9 1090.9L1690.0 1096.7L1690.2 1094.6L1690.3 1100.7L1690.5 1097.2L1690.6 1098.7L1690.7 1103.1L1690.9 1086.5L1691.0 1090.5L1691.2 1095.5L1691.3 1108.7L1691.5 1095.0L1691.6 1108.8L1691.8 1104.1L1691.9 1098.7L1692.0 1100.6L1692.2 1101.8L1692.3 1095.6L1692.5 1107.5L1692.6 1101.3L1692.8 1098.6L1692.9 1095.0L1693.0 1102.3L1693.2 1102.4L1693.3 1104.3L1693.5 1113.3L1693.6 1103.2L1693.8 1095.5L1693.9 1095.4L1694.0 1091.8L1694.2 1093.6L1694.3 1091.7L1694.5 1105.8L1694.6 1086.2L1694.8 1108.9L1694.9 1096.2L1695.0 1091.7L1695.2 1095.1L1695.3 1100.0L1695.5 1100.8L1695.6 1097.4L1695.8 1107.1L1695.9 1092.6L1696.0 1095.0L1696.2 1105.3L1696.3 1092.9L1696.5 1096.2L1696.6 1104.5L1696.8 1105.1L1696.9 1105.1L1697.0 1105.6L1697.2 1101.5L1697.3 1103.0L1697.5 1102.7L1697.6 1101.6L1697.7 1107.9L1697.9 1102.3L1698.0 1107.7L1698.2 1102.4L1698.3 1108.2L1698.4 1088.0L1698.6 1115.3L1698.7 1097.3L1698.9 1100.7L1699.0 1099.9L1699.1 1114.9L1699.3 1094.1L1699.4 1101.1L1699.6 1101.7L1699.7 1118.3L1699.8 1112.3L1700.0 1098.1L1700.1 1101.9L1700.3 1104.6L1700.4 1098.9L1700.5 1113.0L1700.7 1106.0L1700.8 1093.4L1701.0 1104.6L1701.1 1103.9L1701.2 1101.3L1701.4 1106.0L1701.5 1109.0L1701.7 1103.0L1701.8 1100.7L1701.9 1107.0L1702.1 1093.8L1702.2 1111.2L1702.4 1096.5L1702.5 1106.0L1702.6 1104.0L1702.8 1108.7L1702.9 1101.7L1703.1 1108.0L1703.2 1095.0L1703.3 1114.4L1703.5 1109.2L1703.6 1111.8L1703.7 1102.5L1703.9 1107.4L1704.0 1103.3L1704.2 1105.9L1704.3 1099.2L1704.4 1105.7L1704.6 1089.6L1704.7 1113.4L1704.8 1098.5L1705.0 1112.1L1705.1 1115.4L1705.3 1111.2L1705.4 1099.5L1705.5 1109.0L1705.7 1111.6L1705.8 1112.1L1705.9 1109.9L1706.1 1107.7L1706.2 1105.3L1706.4 1105.7L1706.5 1108.6L1706.6 1107.0L1706.8 1105.7L1706.9 1105.4L1707.0 1108.1L1707.2 1104.1L1707.3 1113.9L1707.5 1108.4L1707.6 1115.7L1707.7 1103.5L1707.9 1102.5L1708.0 1104.8L1708.1 1107.6L1708.3 1108.4L1708.4 1114.9L1708.5 1095.2L1708.7 1110.3L1708.8 1098.2L1708.9 1102.8L1709.1 1107.7L1709.2 1109.2L1709.4 1117.5L1709.5 1107.6L1709.6 1117.1L1709.8 1113.3L1709.9 1108.1L1710.0 1115.4L1710.2 1106.6L1710.3 1113.2L1710.4 1122.0L1710.6 1114.3L1710.7 1109.5L1710.8 1105.6L1711.0 1108.1L1711.1 1106.0L1711.2 1121.7L1711.4 1115.7L1711.5 1111.3L1711.7 1113.4L1711.8 1123.3L1711.9 1109.1L1712.1 1108.6L1712.2 1120.9L1712.3 1115.6L1712.5 1104.3L1712.6 1115.1L1712.7 1111.0L1712.9 1109.6L1713.0 1108.8L1713.1 1108.2L1713.3 1112.4L1713.4 1117.0L1713.5 1105.5L1713.7 1114.6L1713.8 1101.9L1713.9 1110.1L1714.1 1118.2L1714.2 1111.9L1714.3 1109.9L1714.5 1121.9L1714.6 1115.9L1714.7 1114.3L1714.9 1116.2L1715.0 1104.0L1715.1 1110.7L1715.3 1124.4L1715.4 1117.7L1715.5 1123.7L1715.7 1107.0L1715.8 1110.4L1715.9 1118.5L1716.1 1119.0L1716.2 1100.0L1716.3 1113.6L1716.5 1111.6L1716.6 1109.2L1716.7 1115.8L1716.8 1107.2L1717.0 1115.3L1717.1 1116.7L1717.2 1108.9L1717.4 1112.7L1717.5 1096.9L1717.6 1115.5L1717.8 1112.2L1717.9 1101.0L1718.0 1101.0L1718.2 1111.5L1718.3 1126.4L1718.4 1113.7L1718.6 1105.1L1718.7 1110.7L1718.8 1098.9L1719.0 1108.5L1719.1 1107.3L1719.2 1113.5L1719.3 1120.6L1719.5 1110.9L1719.6 1126.1L1719.7 1112.7L1719.9 1115.0L1720.0 1112.1L1720.1 1106.5L1720.3 1109.0L1720.4 1110.5L1720.5 1123.6L1720.7 1112.6L1720.8 1104.1L1720.9 1115.9L1721.0 1116.1L1721.2 1106.8L1721.3 1116.9L1721.4 1115.5L1721.6 1105.6L1721.7 1120.5L1721.8 1105.1L1722.0 1108.8L1722.1 1118.9L1722.2 1104.2L1722.3 1097.5L1722.5 1110.5L1722.6 1115.8L1722.7 1115.0L1722.9 1111.9L1723.0 1106.1L1723.1 1122.4L1723.2 1121.4L1723.4 1116.5L1723.5 1118.6L1723.6 1103.4L1723.8 1120.1L1723.9 1124.7L1724.0 1121.1L1724.1 1121.8L1724.3 1117.5L1724.4 1117.2L1724.5 1101.4L1724.7 1112.6L1724.8 1117.7L1724.9 1109.9L1725.0 1106.3L1725.2 1113.7L1725.3 1110.4L1725.4 1124.7L1725.6 1114.1L1725.7 1115.8L1725.8 1125.7L1725.9 1109.7L1726.1 1118.8L1726.2 1127.5L1726.3 1111.3L1726.5 1114.4L1726.6 1123.9L1726.7 1123.3L1726.8 1113.6L1727.0 1113.9L1727.1 1113.7L1727.2 1112.2L1727.4 1122.4L1727.5 1115.7L1727.6 1112.8L1727.7 1112.8L1727.9 1123.6L1728.0 1099.2L1728.1 1115.2L1728.2 1119.7L1728.4 1113.5L1728.5 1111.6L1728.6 1121.6L1728.7 1119.9L1728.9 1131.4L1729.0 1114.1L1729.1 1121.3L1729.3 1111.6L1729.4 1126.8L1729.5 1125.4L1729.6 1122.9L1729.8 1125.8L1729.9 1123.7L1730.0 1122.0L1730.1 1119.0L1730.3 1125.3L1730.4 1122.9L1730.5 1117.0L1730.6 1118.9L1730.8 1120.6L1730.9 1129.6L1731.0 1119.8L1731.1 1118.6L1731.3 1111.1L1731.4 1125.0L1731.5 1121.4L1731.6 1121.0L1731.8 1121.0L1731.9 1123.6L1732.0 1108.9L1732.1 1113.8L1732.3 1118.2L1732.4 1125.4L1732.5 1123.1L1732.7 1126.2L1732.8 1122.5L1732.9 1124.3L1733.0 1115.6L1733.1 1116.7L1733.3 1118.8L1733.4 1118.6L1733.5 1124.9L1733.6 1120.6L1733.8 1120.7L1733.9 1120.1L1734.0 1130.2L1734.1 1117.5L1734.3 1125.0L1734.4 1117.1L1734.5 1123.0L1734.6 1123.2L1734.8 1119.4L1734.9 1114.0L1735.0 1123.1L1735.1 1122.3L1735.3 1119.3L1735.4 1120.0L1735.5 1118.9L1735.6 1136.7L1735.8 1118.1L1735.9 1110.7L1736.0 1110.1L1736.1 1125.9L1736.3 1109.2L1736.4 1125.0L1736.5 1117.7L1736.6 1122.6L1736.7 1121.2L1736.9 1127.2L1737.0 1118.0L1737.1 1120.5L1737.2 1115.2L1737.4 1106.7L1737.5 1129.7L1737.6 1111.7L1737.7 1124.8L1737.9 1127.8L1738.0 1123.9L1738.1 1115.1L1738.2 1132.6L1738.3 1113.4L1738.5 1128.3L1738.6 1130.0L1738.7 1112.8L1738.8 1126.5L1739.0 1116.1L1739.1 1125.6L1739.2 1108.5L1739.3 1134.6L1739.4 1127.3L1739.6 1123.0L1739.7 1120.2L1739.8 1133.0L1739.9 1126.3L1740.1 1125.7L1740.2 1120.3L1740.3 1120.9L1740.4 1122.4L1740.5 1117.4L1740.7 1124.8L1740.8 1135.7L1740.9 1127.2L1741.0 1129.3L1741.2 1127.0L1741.3 1140.0L1741.4 1120.4L1741.5 1111.1L1741.6 1103.3L1741.8 1120.5L1741.9 1126.1L1742.0 1131.5L1742.1 1114.0L1742.2 1120.3L1742.4 1134.8L1742.5 1113.1L1742.6 1117.7L1742.7 1121.9L1742.8 1116.9L1743.0 1123.9L1743.1 1110.6L1743.2 1119.1L1743.3 1119.6L1743.4 1130.7L1743.6 1127.4L1743.7 1127.8L1743.8 1116.2L1743.9 1132.6L1744.0 1122.3L1744.2 1132.8L1744.3 1112.4L1744.4 1115.4L1744.5 1118.8L1744.6 1133.5L1744.8 1116.0L1744.9 1123.1L1745.0 1120.1L1745.1 1129.9L1745.2 1122.5L1745.4 1135.2L1745.5 1116.9L1745.6 1138.8L1745.7 1123.8L1745.8 1115.1L1746.0 1129.0L1746.1 1123.2L1746.2 1117.6L1746.3 1133.4L1746.4 1120.5L1746.6 1115.6L1746.7 1126.2L1746.8 1129.4L1746.9 1129.0L1747.0 1113.5L1747.2 1135.3L1747.3 1125.7L1747.4 1128.2L1747.5 1116.2L1747.6 1118.1L1747.8 1120.0L1747.9 1124.1L1748.0 1139.7L1748.1 1125.7L1748.2 1125.2L1748.3 1134.1L1748.5 1135.5L1748.6 1130.8L1748.7 1121.3L1748.8 1112.7L1748.9 1108.2L1749.1 1121.7L1749.2 1119.3L1749.3 1130.3L1749.4 1138.4L1749.5 1121.3L1749.6 1122.9L1749.8 1124.8L1749.9 1111.1L1750.0 1125.1L1750.1 1131.8L1750.2 1145.0L1750.3 1115.4L1750.5 1131.8L1750.6 1137.3L1750.7 1117.7L1750.8 1124.4L1750.9 1136.1L1751.1 1121.5L1751.2 1123.9L1751.3 1078.5L1751.4 1135.7L1751.5 1129.6L1751.6 1123.1L1751.8 1131.4L1751.9 1119.6L1752.0 1116.8L1752.1 1124.1L1752.2 1125.0L1752.3 1127.4L1752.5 1127.9L1752.6 1122.6L1752.7 1112.6L1752.8 1113.3L1752.9 1123.6L1753.0 1131.9L1753.2 1119.6L1753.3 1122.1L1753.4 1130.8L1753.5 1117.0L1753.6 1131.5L1753.7 1122.8L1753.9 1122.5L1754.0 1130.8L1754.1 1121.8L1754.2 1133.4L1754.3 1118.5L1754.4 1120.2L1754.6 1122.8L1754.7 1131.6L1754.8 1119.3L1754.9 1128.4L1755.0 1129.3L1755.1 1134.4L1755.2 1122.2L1755.4 1129.2L1755.5 1132.9L1755.6 1140.7L1755.7 1126.4L1755.8 1129.7L1755.9 1127.7L1756.1 1102.3L1756.2 1127.0L1756.3 1125.1L1756.4 1117.5L1756.5 1119.6L1756.6 1124.5L1756.7 1126.5L1756.9 1125.4L1757.0 1122.2L1757.1 1126.2L1757.2 1132.5L1757.3 1124.9L1757.4 1135.2L1757.5 1137.4L1757.7 1133.8L1757.8 1122.9L1757.9 1124.8L1758.0 1106.8L1758.1 1124.1L1758.2 1123.0L1758.4 1119.2L1758.5 1108.4L1758.6 1131.4L1758.7 1133.2L1758.8 1123.8L1758.9 1131.6L1759.0 1122.8L1759.1 1110.6L1759.3 1124.8L1759.4 1121.9L1759.5 1123.3L1759.6 1124.4L1759.7 1117.2L1759.8 1113.4L1759.9 1132.9L1760.1 1126.2L1760.2 1128.5L1760.3 1117.0L1760.4 1106.0L1760.5 1114.3L1760.6 1134.6L1760.7 1129.3L1760.9 1110.4L1761.0 1120.0L1761.1 1116.4L1761.2 1125.9L1761.3 1138.9L1761.4 1121.3L1761.5 1128.9L1761.6 1124.7L1761.8 1122.5L1761.9 1118.5L1762.0 1121.2L1762.1 1130.3L1762.2 1129.5L1762.3 1131.5L1762.4 1120.6L1762.6 1121.3L1762.7 1127.3L1762.8 1125.1L1762.9 1119.7L1763.0 1122.6L1763.1 1138.2L1763.2 1125.2L1763.3 1130.5L1763.5 1133.4L1763.6 1125.5L1763.7 1139.7L1763.8 1128.8L1763.9 1132.7L1764.0 1123.8L1764.1 1132.1L1764.2 1126.6L1764.3 1131.5L1764.5 1122.4L1764.6 1122.6L1764.7 1126.2L1764.8 1132.3L1764.9 1117.2L1765.0 1127.5L1765.1 1126.4L1765.2 1135.0L1765.4 1110.2L1765.5 1116.0L1765.6 1132.7L1765.7 1129.6L1765.8 1130.9L1765.9 1127.3L1766.0 1129.5L1766.1 1130.4L1766.2 1133.7L1766.4 1117.7L1766.5 1121.1L1766.6 1135.2L1766.7 1135.1L1766.8 1120.1L1766.9 1139.7L1767.0 1131.1L1767.1 1133.7L1767.2 1125.4L1767.4 1120.8L1767.5 1127.2L1767.6 1126.5L1767.7 1118.8L1767.8 1127.6L1767.9 1127.2L1768.0 1114.7L1768.1 1120.8L1768.2 1125.8L1768.4 1121.0L1768.5 1131.7L1768.6 1135.4L1768.7 1119.0L1768.8 1128.3L1768.9 1129.6L1769.0 1133.0L1769.1 1115.4L1769.2 1119.3L1769.3 1129.3L1769.5 1135.0L1769.6 1128.8L1769.7 1120.3L1769.8 1130.0L1769.9 1121.2L1770.0 1115.9L1770.1 1127.5L1770.2 1133.3L1770.3 1133.9L1770.4 1128.1L1770.6 1121.2L1770.7 1117.9L1770.8 1131.4L1770.9 1119.3L1771.0 1128.5L1771.1 1129.2L1771.2 1121.5L1771.3 1125.1L1771.4 1126.0L1771.5 1131.7L1771.6 1121.7L1771.8 1125.6L1771.9 1128.0L1772.0 1117.7L1772.1 1122.9L1772.2 1122.7L1772.3 1127.6L1772.4 1118.2L1772.5 1126.0L1772.6 1128.7L1772.7 1136.6L1772.8 1126.8L1773.0 1137.7L1773.1 1129.7L1773.2 1131.5L1773.3 1121.3L1773.4 1122.2L1773.5 1129.9L1773.6 1122.0L1773.7 1138.1L1773.8 1127.7L1773.9 1145.8L1774.0 1122.4L1774.1 1131.0L1774.3 1130.3L1774.4 1127.8L1774.5 1129.4L1774.6 1111.2L1774.7 1127.0L1774.8 1134.2L1774.9 1126.0L1775.0 1116.9L1775.1 1123.5L1775.2 1126.7L1775.3 1132.8L1775.4 1121.6L1775.6 1134.4L1775.7 1120.9L1775.8 1133.2L1775.9 1128.1L1776.0 1143.0L1776.1 1131.0L1776.2 1135.1L1776.3 1123.8L1776.4 1112.0L1776.5 1126.4L1776.6 1126.7L1776.7 1120.9L1776.8 1125.8L1777.0 1112.4L1777.1 1123.9L1777.2 1121.4L1777.3 1136.1L1777.4 1126.1L1777.5 1126.2L1777.6 1125.8L1777.7 1111.6L1777.8 1118.4L1777.9 1134.6L1778.0 1129.8L1778.1 1115.4L1778.2 1127.2L1778.3 1122.3L1778.4 1128.5L1778.6 1126.0L1778.7 1124.9L1778.8 1115.4L1778.9 1122.7L1779.0 1118.9L1779.1 1123.1L1779.2 1131.6L1779.3 1127.8L1779.4 1129.0L1779.5 1130.7L1779.6 1116.6L1779.7 1123.1L1779.8 1132.3L1779.9 1133.8L1780.0 1109.0L1780.1 1117.4L1780.3 1127.7L1780.4 1147.2L1780.5 1119.7L1780.6 1123.7L1780.7 1126.3L1780.8 1131.2L1780.9 1114.6L1781.0 1120.1L1781.1 1121.2L1781.2 1119.7L1781.3 1120.6L1781.4 1128.4L1781.5 1133.9L1781.6 1129.1L1781.7 1126.5L1781.8 1124.3L1781.9 1119.7L1782.1 1115.5L1782.2 1115.8L1782.3 1132.9L1782.4 1133.6L1782.5 1128.7L1782.6 1127.0L1782.7 1125.1L1782.8 1128.2L1782.9 1121.7L1783.0 1118.0L1783.1 1114.5L1783.2 1125.6L1783.3 1117.6L1783.4 1110.9L1783.5 1121.6L1783.6 1118.5L1783.7 1130.5L1783.8 1135.4L1783.9 1129.2L1784.0 1131.4L1784.2 1139.4L1784.3 1115.6L1784.4 1116.0L1784.5 1125.2L1784.6 1122.3L1784.7 1126.9L1784.8 1133.6L1784.9 1124.9L1785.0 1112.2L1785.1 1145.8L1785.2 1117.3L1785.3 1115.6L1785.4 1133.2L1785.5 1112.6L1785.6 1116.3L1785.7 1125.2L1785.8 1119.0L1785.9 1126.1L1786.0 1133.3L1786.1 1125.7L1786.2 1122.1L1786.3 1129.0L1786.4 1127.3L1786.5 1146.4L1786.7 1117.8L1786.8 1134.6L1786.9 1122.9L1787.0 1128.0L1787.1 1109.9L1787.2 1116.6L1787.3 1115.5L1787.4 1111.9L1787.5 1119.9L1787.6 1135.9L1787.7 1112.1L1787.8 1134.7L1787.9 1123.1L1788.0 1124.2L1788.1 1113.6L1788.2 1125.5L1788.3 1134.8L1788.4 1119.6L1788.5 1124.6L1788.6 1123.8L1788.7 1120.8L1788.8 1116.4L1788.9 1132.6L1789.0 1129.8L1789.1 1118.7L1789.2 1132.8L1789.3 1117.3L1789.4 1124.4L1789.5 1111.8L1789.6 1109.3" fill="none" stroke="#0000ff" stroke-width="2.7" stroke-linejoin="round"/>
<g fill="none" stroke-linecap="butt">
<path d="M657.6 172V990.5M657.6 1049.5V1114.5" stroke="#111" stroke-width="1.7" stroke-dasharray="9.2 5.2"/>
<path d="M1052.4 174.5V1370" stroke="#000" stroke-width="2.1" stroke-dasharray="9.5 5"/>
<path d="M1425.9 174.5V1370" stroke="#000" stroke-width="2.5" stroke-dasharray="9.5 5"/>
</g>
<path d="M162.9 352.1L165.9 353.1L168.9 354.2L171.9 355.4L174.9 356.7L177.9 358.1L180.9 359.5L183.9 361.1L186.9 362.7L189.9 364.5L192.9 366.4L195.9 368.3L198.9 370.3L201.9 372.2L204.9 374.3L207.9 376.4L210.9 378.6L213.9 380.8L216.9 383.1L219.9 385.3L222.9 387.6L225.9 389.9L228.9 392.3L231.9 394.6L234.9 397.0L237.9 399.3L240.9 401.7L243.9 404.0L246.9 406.3L249.9 408.7L252.9 411.0L255.9 413.3L258.9 415.6L261.9 417.9L264.9 420.2L267.9 422.5L270.9 424.8L273.9 427.0L276.9 429.3L279.9 431.6L282.9 433.8L285.9 436.1L288.9 438.4L291.9 440.6L294.9 442.9L297.9 445.1L300.9 447.4L303.9 449.6L306.9 451.8L309.9 454.1L312.9 456.3L315.9 458.6L318.9 460.8L321.9 463.0L324.9 465.3L327.9 467.5L330.9 469.7L333.9 472.0L336.9 474.2L339.9 476.4L342.9 478.7L345.9 480.9L348.9 483.1L351.9 485.3L354.9 487.5L357.9 489.8L360.9 492.0L363.9 494.2L366.9 496.4L369.9 498.6L372.9 500.8L375.9 503.0L378.9 505.2L381.9 507.4L384.9 509.6L387.9 511.8L390.9 513.9L393.9 516.1L396.9 518.3L399.9 520.5L402.9 522.6L405.9 524.8L408.9 526.9L411.9 529.1L414.9 531.2L417.9 533.4L420.9 535.5L423.9 537.6L426.9 539.8L429.9 541.9L432.9 544.0L435.9 546.1L438.9 548.2L441.9 550.3L444.9 552.4L447.9 554.5L450.9 556.6L453.9 558.7L456.9 560.7L459.9 562.8L462.9 564.8L465.9 566.9L468.9 568.9L471.9 571.0L474.9 573.0L477.9 575.0L480.9 577.0L483.9 579.0L486.9 581.0L489.9 583.0L492.9 585.0L495.9 587.0L498.9 588.9L501.9 590.9L504.9 592.8L507.9 594.8L510.9 596.7L513.9 598.6L516.9 600.5L519.9 602.4L522.9 604.3L525.9 606.2L528.9 608.1L531.9 609.9L534.9 611.8L537.9 613.6L540.9 615.4L543.9 617.2L546.9 619.0L549.9 620.8L552.9 622.6L555.9 624.3L558.9 626.1L561.9 627.8L564.9 629.5L567.9 631.2L570.9 632.9L573.9 634.6L576.9 636.3L579.9 637.9L582.9 639.6L585.9 641.3L588.9 642.9L591.9 644.6L594.9 646.2L597.9 647.9L600.9 649.5L603.9 651.1L606.9 652.8L609.9 654.4L612.9 656.0L615.9 657.6L618.9 659.3L620.0 659.9L625.9 663.0L631.6 666.3L637.2 669.3L642.7 672.5L648.2 675.5L653.5 677.9L658.7 680.9L663.8 683.7L668.8 686.4L673.8 689.0L678.7 691.4L683.5 693.8L688.2 695.7L692.8 698.4L697.4 700.5L701.8 703.0L706.3 704.9L710.6 707.3L714.9 709.4L719.1 711.1L723.3 712.9L727.4 714.6L731.4 716.1L735.4 718.0L739.4 719.4L743.3 721.4L747.1 722.8L750.9 724.5L754.6 725.1L758.3 727.5L761.9 728.1L765.5 729.5L769.1 731.0L772.6 732.1L776.0 733.7L779.5 734.5L782.8 735.4L786.2 736.6L789.5 738.9L792.8 739.3L796.0 739.7L799.2 741.3L802.4 741.5L805.5 744.2L808.6 743.4L811.6 745.4L814.7 746.4L817.7 746.1L820.6 748.0L823.6 749.2L826.5 749.8L829.3 750.5L832.2 751.7L835.0 752.0L837.8 752.8L840.6 753.3L843.3 754.5L846.0 754.3L848.7 756.0L851.4 756.0L854.0 756.3L856.6 757.8L859.2 759.3L861.8 759.5L864.3 759.2L866.9 760.6L869.4 760.5L871.9 761.3L874.3 762.0L876.8 761.1L879.2 763.2L881.6 763.0L883.9 763.8L886.3 763.8L888.6 764.3L891.0 765.2L893.3 766.9L895.6 768.0L897.8 767.4L900.1 768.6L902.3 768.2L904.5 767.6L906.7 769.5L908.9 770.2L911.1 770.0L913.2 771.0L915.3 771.7L917.5 771.1L919.6 771.1L921.6 772.5L923.7 772.9L925.8 773.2L927.8 774.6L929.8 775.6L931.9 774.5L933.9 775.7L935.8 776.3L937.8 776.5L939.8 777.2L941.7 776.5L943.7 777.8L945.6 779.1L947.5 778.6L949.4 778.0L951.3 779.2L953.1 780.1L955.0 779.8L956.8 779.5L958.7 781.5L960.5 779.7L962.3 781.4L964.1 781.4L965.9 780.9L967.7 783.1L969.4 782.8L971.2 782.0L972.9 783.7L974.7 783.3L976.4 782.5L978.1 783.8L979.8 784.9L981.5 785.5L983.2 785.5L984.9 785.7L986.5 786.4L988.2 786.2L989.8 787.6L991.5 787.2L993.1 787.6L994.7 788.2L996.3 787.2L997.9 787.9L999.5 790.0L1001.1 789.4L1002.7 789.2L1004.2 790.0L1005.8 789.7L1007.3 790.7L1008.9 790.2L1010.4 791.3L1011.9 790.1L1013.5 792.9L1015.0 791.7L1016.5 791.1L1018.0 792.6L1019.4 792.8L1020.9 793.6L1022.4 792.7L1023.9 794.4L1025.3 797.7L1026.8 793.6L1028.2 795.4L1029.6 795.1L1031.1 795.9L1032.5 794.3L1033.9 795.3L1035.3 797.1L1036.7 797.0L1038.1 798.9L1039.5 797.0L1040.8 798.2L1042.2 801.2L1043.6 797.9L1044.9 798.1L1046.3 799.3L1047.6 799.6L1049.0 800.8L1050.3 800.4L1051.6 799.8L1053.0 801.2L1054.3 804.0L1055.6 802.9L1056.9 799.0L1058.2 802.1L1059.5 801.7L1060.8 803.6L1062.1 803.1L1063.3 805.6L1064.6 804.9L1065.9 805.2L1067.1 804.8L1068.4 804.9L1069.6 805.6L1070.9 807.0L1072.1 806.5L1073.3 805.8L1074.6 808.0L1075.8 807.1L1077.0 807.1L1078.2 806.7L1079.4 807.2L1080.6 807.5L1081.8 805.4L1083.0 810.1L1084.2 809.9L1085.4 809.3L1086.5 811.1L1087.7 810.7L1088.9 811.0L1090.0 808.0L1091.2 810.9L1092.4 812.2L1093.5 813.8L1094.6 814.5L1095.8 814.3L1096.9 811.5L1098.0 810.6L1099.2 814.3L1100.3 814.0L1101.4 815.5L1102.5 814.5L1103.6 815.3L1104.7 813.5L1105.8 816.3L1106.9 815.5L1108.0 816.8L1109.1 817.3L1110.2 816.9L1111.3 817.8L1112.3 817.8L1113.4 819.1L1114.5 819.1L1115.6 818.1L1116.6 818.4L1117.7 821.8L1118.7 819.8L1119.8 821.5L1120.8 821.1L1121.9 820.2L1122.9 820.3L1123.9 821.8L1124.9 822.3L1126.0 823.2L1127.0 821.0L1128.0 822.3L1129.0 823.3L1130.0 825.9L1131.0 820.9L1132.1 825.1L1133.1 824.1L1134.1 825.8L1135.0 824.9L1136.0 826.4L1137.0 828.4L1138.0 827.1L1139.0 827.6L1140.0 827.9L1140.9 826.7L1141.9 828.9L1142.9 828.2L1143.8 827.7L1144.8 829.1L1145.8 829.2L1146.7 831.0L1147.7 830.2L1148.6 829.9L1149.6 833.1L1150.5 832.8L1151.4 833.6L1152.4 833.0L1153.3 832.4L1154.2 832.3L1155.2 832.8L1156.1 835.0L1157.0 834.2L1157.9 832.2L1158.8 834.7L1159.8 833.0L1160.7 835.7L1161.6 834.0L1162.5 834.3L1163.4 836.7L1164.3 836.8L1165.2 834.8L1166.1 838.8L1166.9 841.3L1167.8 836.2L1168.7 841.5L1169.6 838.1L1170.5 838.7L1171.4 839.6L1172.2 838.0L1173.1 842.6L1174.0 841.7L1174.8 840.2L1175.7 841.3L1176.6 839.7L1177.4 841.9L1178.3 844.3L1179.1 840.5L1180.0 842.9L1180.8 844.1L1181.7 845.9L1182.5 846.8L1183.4 844.3L1184.2 844.2L1185.0 846.5L1185.9 845.5L1186.7 846.0L1187.5 848.6L1188.3 849.9L1189.2 848.0L1190.0 847.6L1190.8 849.2L1191.6 845.6L1192.4 849.0L1193.3 847.7L1194.1 853.6L1194.9 851.3L1195.7 850.7L1196.5 850.5L1197.3 847.1L1198.1 852.7L1198.9 854.6L1199.7 851.1L1200.5 853.8L1201.2 854.2L1202.0 850.8L1202.8 855.3L1203.6 856.3L1204.4 854.8L1205.2 854.7L1205.9 856.4L1206.7 852.9L1207.5 856.0L1208.3 858.0L1209.0 854.5L1209.8 858.6L1210.6 856.6L1211.3 854.1L1212.1 857.8L1212.8 856.7L1213.6 859.2L1214.4 857.0L1215.1 861.2L1215.9 858.5L1216.6 860.7L1217.4 859.4L1218.1 860.2L1218.8 863.2L1219.6 861.9L1220.3 861.1L1221.1 860.0L1221.8 864.5L1222.5 864.1L1223.3 862.6L1224.0 864.0L1224.7 862.1L1225.4 862.5L1226.2 863.1L1226.9 865.6L1227.6 865.8L1228.3 864.3L1229.0 867.3L1229.8 867.7L1230.5 866.9L1231.2 868.8L1231.9 866.8L1232.6 867.4L1233.3 868.8L1234.0 868.3L1234.7 870.1L1235.4 866.7L1236.1 871.9L1236.8 868.2L1237.5 869.7L1238.2 867.8L1238.9 871.7L1239.6 873.3L1240.3 873.3L1241.0 873.2L1241.7 869.1L1242.3 870.9L1243.0 871.8L1243.7 871.3L1244.4 875.4L1245.1 874.0L1245.7 873.9L1246.4 875.2L1247.1 872.9L1247.8 873.3L1248.4 873.6L1249.1 876.5L1249.8 876.5L1250.4 877.3L1251.1 878.6L1251.8 874.3L1252.4 876.1L1253.1 877.8L1253.7 875.3L1254.4 877.2L1255.1 880.4L1255.7 880.9L1256.4 881.1L1257.0 879.5L1257.7 879.3L1258.3 882.1L1259.0 879.7L1259.6 881.3L1260.2 883.5L1260.9 880.6L1261.5 880.4L1262.2 881.9L1262.8 883.4L1263.4 883.5L1264.1 883.1L1264.7 884.2L1265.3 880.4L1266.0 882.1L1266.6 884.4L1267.2 882.6L1267.9 882.1L1268.5 882.6L1269.1 883.5L1269.7 885.2L1270.4 883.9L1271.0 886.7L1271.6 889.9L1272.2 886.5L1272.8 889.7L1273.4 888.0L1274.1 885.5L1274.7 887.5L1275.3 886.3L1275.9 890.2L1276.5 886.6L1277.1 891.9L1277.7 890.7L1278.3 885.7L1278.9 891.7L1279.5 893.6L1280.1 889.0L1280.7 893.0L1281.3 887.5L1281.9 892.1L1282.5 888.4L1283.1 893.1L1283.7 888.7L1284.3 887.2L1284.9 893.8L1285.5 898.1L1286.1 892.3L1286.6 895.6L1287.2 894.4L1287.8 893.7L1288.4 896.0L1289.0 898.5L1289.6 892.6L1290.1 896.7L1290.7 896.5L1291.3 893.0L1291.9 899.8L1292.5 900.8L1293.0 894.9L1293.6 900.9L1294.2 897.6L1294.7 897.4L1295.3 901.3L1295.9 898.8L1296.4 899.3L1297.0 902.1L1297.6 901.9L1298.1 901.3L1298.7 896.6L1299.3 896.5L1299.8 902.7L1300.4 898.4L1300.9 901.0L1301.5 898.6L1302.1 900.8L1302.6 898.7L1303.2 905.4L1303.7 899.8L1304.3 902.0L1304.8 902.2L1305.4 905.6L1305.9 899.9L1306.5 903.3L1307.0 903.2L1307.6 905.1L1308.1 905.2L1308.7 903.4L1309.2 905.2L1309.7 904.1L1310.3 906.3L1310.8 905.2L1311.4 904.2L1311.9 905.9L1312.4 907.0L1313.0 911.7L1313.5 905.6L1314.0 907.7L1314.6 910.6L1315.1 902.6L1315.6 903.7L1316.2 905.2L1316.7 908.0L1317.2 914.2L1317.8 909.6L1318.3 911.8L1318.8 908.7L1319.3 903.7L1319.9 904.2L1320.4 912.4L1320.9 910.6L1321.4 907.4L1321.9 913.3L1322.5 907.3L1323.0 913.9L1323.5 914.9L1324.0 909.8L1324.5 909.2L1325.0 914.1L1325.6 909.7L1326.1 914.7L1326.6 909.9L1327.1 915.0L1327.6 913.5L1328.1 912.5L1328.6 911.6L1329.1 914.6L1329.6 909.6L1330.1 913.8L1330.6 913.7L1331.1 916.6L1331.6 912.1L1332.1 919.6L1332.6 914.8L1333.1 913.0L1333.6 919.5L1334.1 920.4L1334.6 916.0L1335.1 914.5L1335.6 917.0L1336.1 915.5L1336.6 916.6L1337.1 921.5L1337.6 918.8L1338.1 918.4L1338.6 919.2L1339.1 918.4L1339.6 920.9L1340.0 921.2L1340.5 918.3L1341.0 919.7L1341.5 925.7L1342.0 920.9L1342.5 919.6L1343.0 925.5L1343.4 920.5L1343.9 917.9L1344.4 922.6L1344.9 918.8L1345.4 920.1L1345.8 922.4L1346.3 921.5L1346.8 920.0L1347.3 920.8L1347.7 920.9L1348.2 925.6L1348.7 921.0L1349.2 921.6L1349.6 928.5L1350.1 922.0L1350.6 927.5L1351.0 927.3L1351.5 923.7L1352.0 920.6L1352.5 925.7L1352.9 926.4L1353.4 927.4L1353.8 925.3L1354.3 928.4L1354.8 929.1L1355.2 922.9L1355.7 929.7L1356.2 926.5L1356.6 924.8L1357.1 925.6L1357.5 931.6L1358.0 929.5L1358.5 922.3L1358.9 927.5L1359.4 927.1L1359.8 927.2L1360.3 926.5L1360.7 924.1L1361.2 930.5L1361.6 925.9L1362.1 927.6L1362.5 927.2L1363.0 927.0L1363.4 931.2L1363.9 930.4L1364.3 927.7L1364.8 927.2L1365.2 928.6L1365.7 932.7L1366.1 930.6L1366.6 931.1L1367.0 929.8L1367.5 930.1L1367.9 931.6L1368.3 926.2L1368.8 935.8L1369.2 929.4L1369.7 930.2L1370.1 935.6L1370.6 932.7L1371.0 932.4L1371.4 930.9L1371.9 928.4L1372.3 933.4L1372.7 936.3L1373.2 930.7L1373.6 937.2L1374.0 930.4L1374.5 931.7L1374.9 935.3L1375.3 934.1L1375.8 936.2L1376.2 932.4L1376.6 931.7L1377.1 929.6L1377.5 931.6L1377.9 932.1L1378.3 931.3L1378.8 936.3L1379.2 933.8L1379.6 930.2L1380.0 943.0L1380.5 933.8L1380.9 932.8L1381.3 940.0L1381.7 940.0L1382.2 933.5L1382.6 932.8L1383.0 934.3L1383.4 940.5L1383.8 936.6L1384.3 935.3L1384.7 937.7L1385.1 941.4L1385.5 934.1L1385.9 937.2L1386.3 934.5L1386.8 944.8L1387.2 944.0L1387.6 941.6L1388.0 938.7L1388.4 941.1L1388.8 933.3L1389.2 940.3L1389.6 935.8L1390.1 936.0L1390.5 937.9L1390.9 939.1L1391.3 941.9L1391.7 942.5L1392.1 941.3L1392.5 938.0L1392.9 942.9L1393.3 940.7L1393.7 944.6L1394.1 938.6L1394.5 933.4L1394.9 940.2L1395.3 948.1L1395.7 943.3L1396.1 941.5L1396.5 944.8L1396.9 943.8L1397.3 943.9L1397.7 941.1L1398.1 943.0L1398.5 943.5L1398.9 941.2L1399.3 939.9L1399.7 943.8L1400.1 946.4L1400.5 945.6L1400.9 945.2L1401.3 945.4L1401.7 951.8L1402.1 945.0L1402.5 947.5L1402.9 950.3L1403.3 944.8L1403.7 945.5L1404.1 948.0L1404.4 950.1L1404.8 946.1L1405.2 946.4L1405.6 945.7L1406.0 941.9L1406.4 949.1L1406.8 945.1L1407.2 940.7L1407.5 945.7L1407.9 941.0L1408.3 943.3L1408.7 946.6L1409.1 943.8L1409.5 950.0L1409.9 942.4L1410.2 947.8L1410.6 948.9L1411.0 951.8L1411.4 950.3L1411.8 948.3L1412.1 947.9L1412.5 947.6L1412.9 951.4L1413.3 946.0L1413.7 949.8L1414.0 948.0L1414.4 949.2L1414.8 947.7L1415.2 955.3L1415.5 946.8L1415.9 949.7L1416.3 949.9L1416.7 951.0L1417.0 950.7L1417.4 950.7L1417.8 952.6L1418.2 944.9L1418.5 949.8L1418.9 946.0L1419.3 950.7L1419.6 946.4L1420.0 947.2L1420.4 950.1L1420.7 954.8L1421.1 952.4L1421.5 951.6L1421.8 955.2L1422.2 947.9L1422.6 944.4L1422.9 949.8L1423.3 950.3L1423.7 955.2L1424.0 958.2L1424.4 947.3L1424.8 959.5L1425.1 956.7L1425.5 954.5L1425.9 953.1" fill="none" stroke="#bf0000" stroke-width="2.7" stroke-linejoin="round"/>
<path d="M1425.9 953.1L1426.2 959.8L1426.6 952.4L1426.9 950.8L1427.3 952.8L1427.7 948.1L1428.0 954.1L1428.4 952.3L1428.7 953.8L1429.1 954.0L1429.5 949.6L1429.8 957.3L1430.2 949.9L1430.5 956.2L1430.9 948.3L1431.2 954.7L1431.6 950.9L1431.9 953.8L1432.3 951.7L1432.7 946.8L1433.0 950.4L1433.4 954.3L1433.7 956.2L1434.1 949.5L1434.4 947.5L1434.8 951.6L1435.1 953.9L1435.5 952.6L1435.8 952.1L1436.2 957.7L1436.5 958.1L1436.9 957.5L1437.2 952.1L1437.6 955.5L1437.9 954.7L1438.3 950.8L1438.6 958.4L1439.0 955.9L1439.3 954.1L1439.6 960.5L1440.0 958.4L1440.3 958.8L1440.7 960.0L1441.0 958.5L1441.4 952.1L1441.7 955.1L1442.1 959.8L1442.4 954.0L1442.7 956.7L1443.1 958.0L1443.4 961.6L1443.8 961.2L1444.1 959.9L1444.4 956.4L1444.8 960.2L1445.1 959.0L1445.5 956.7L1445.8 961.9L1446.1 959.1L1446.5 955.0L1446.8 961.9L1447.1 956.8L1447.5 959.8L1447.8 952.7L1448.1 957.9L1448.5 954.8L1448.8 954.8L1449.2 951.7L1449.5 965.5L1449.8 957.8L1450.2 959.2L1450.5 962.2L1450.8 958.1L1451.1 960.3L1451.5 954.1L1451.8 959.4L1452.1 957.4L1452.5 960.6L1452.8 959.6L1453.1 954.3L1453.5 952.8L1453.8 955.7L1454.1 961.7L1454.4 960.7L1454.8 960.7L1455.1 952.5L1455.4 950.3L1455.8 957.4L1456.1 958.5L1456.4 957.6L1456.7 960.9L1457.1 959.2L1457.4 955.8L1457.7 956.9L1458.0 960.4L1458.4 960.3L1458.7 959.8L1459.0 968.0L1459.3 959.3L1459.6 960.7L1460.0 956.9L1460.3 959.1L1460.6 962.2L1460.9 962.5L1461.3 960.0L1461.6 962.0L1461.9 960.9L1462.2 954.2L1462.5 949.4L1462.9 968.9L1463.2 963.8L1463.5 960.8L1463.8 955.0L1464.1 956.6L1464.4 965.9L1464.8 951.4L1465.1 960.1L1465.4 964.4L1465.7 961.9L1466.0 964.1L1466.3 961.0L1466.6 969.9L1467.0 958.0L1467.3 956.9L1467.6 962.7L1467.9 966.8L1468.2 961.6L1468.5 965.6L1468.8 960.1L1469.2 957.8L1469.5 967.0L1469.8 967.6L1470.1 967.6L1470.4 960.6L1470.7 958.2L1471.0 958.2L1471.3 961.6L1471.6 964.5L1471.9 964.3L1472.3 957.4L1472.6 963.2L1472.9 962.7L1473.2 963.0L1473.5 962.6L1473.8 962.0L1474.1 964.9L1474.4 963.3L1474.7 963.7L1475.0 960.5L1475.3 964.4L1475.6 962.6L1475.9 955.5L1476.2 964.9L1476.5 962.2L1476.8 966.5L1477.1 962.7L1477.4 963.0L1477.7 964.1L1478.0 963.3L1478.4 961.8L1478.7 957.0L1479.0 970.2L1479.3 957.8L1479.6 962.4L1479.9 966.0L1480.2 965.0L1480.5 965.8L1480.8 966.5L1481.1 968.4L1481.4 964.9L1481.7 974.4L1482.0 960.2L1482.2 964.8L1482.5 962.6L1482.8 962.0L1483.1 965.1L1483.4 969.4L1483.7 961.5L1484.0 961.5L1484.3 966.8L1484.6 966.2L1484.9 971.4L1485.2 968.0L1485.5 965.1L1485.8 963.1L1486.1 965.1L1486.4 963.7L1486.7 959.4L1487.0 964.4L1487.3 963.8L1487.6 963.6L1487.9 962.9L1488.1 970.7L1488.4 967.1L1488.7 968.0L1489.0 962.3L1489.3 960.8L1489.6 963.6L1489.9 965.5L1490.2 963.4L1490.5 964.0L1490.8 968.2L1491.0 965.8L1491.3 961.1L1491.6 963.2L1491.9 962.3L1492.2 965.4L1492.5 960.5L1492.8 964.1L1493.1 967.4L1493.3 965.0L1493.6 961.5L1493.9 962.6L1494.2 965.4L1494.5 966.7L1494.8 968.0L1495.1 964.4L1495.3 960.1L1495.6 970.3L1495.9 966.1L1496.2 966.5L1496.5 966.2L1496.8 961.2L1497.1 963.9L1497.3 966.0L1497.6 968.9L1497.9 965.3L1498.2 953.6L1498.5 964.3L1498.7 966.5L1499.0 970.0L1499.3 967.8L1499.6 974.4L1499.9 970.5L1500.1 970.2L1500.4 968.8L1500.7 960.1L1501.0 968.4L1501.3 967.5L1501.5 963.4L1501.8 967.5L1502.1 966.9L1502.4 963.6L1502.7 964.9L1502.9 964.4L1503.2 966.3L1503.5 963.8L1503.8 967.5L1504.0 958.3L1504.3 964.4L1504.6 959.2L1504.9 963.7L1505.1 967.4L1505.4 965.6L1505.7 965.1L1506.0 965.8L1506.2 971.4L1506.5 961.4L1506.8 968.9L1507.1 960.0L1507.3 963.9L1507.6 966.2L1507.9 962.4L1508.2 966.4L1508.4 968.3L1508.7 961.2L1509.0 965.4L1509.2 964.3L1509.5 958.5L1509.8 965.0L1510.1 962.7L1510.3 970.7L1510.6 962.5L1510.9 972.0L1511.1 963.8L1511.4 973.0L1511.7 967.8L1511.9 967.5L1512.2 968.8L1512.5 969.1L1512.7 971.0L1513.0 972.2L1513.3 964.5L1513.5 961.2L1513.8 955.9L1514.1 964.4L1514.3 968.7L1514.6 967.3L1514.9 966.3L1515.1 964.6L1515.4 963.5L1515.7 964.8L1515.9 967.3L1516.2 959.3L1516.5 968.6L1516.7 960.5L1517.0 965.3L1517.3 963.6L1517.5 964.5L1517.8 962.0L1518.1 961.6L1518.3 965.1L1518.6 961.9L1518.8 975.1L1519.1 964.4L1519.4 963.5L1519.6 963.9L1519.9 962.0L1520.1 956.8L1520.4 965.0L1520.7 967.1L1520.9 960.4L1521.2 966.0L1521.5 961.5L1521.7 965.8L1522.0 967.3L1522.2 967.8L1522.5 967.6L1522.7 963.4L1523.0 969.3L1523.3 964.3L1523.5 967.3L1523.8 968.6L1524.0 964.9L1524.3 961.2L1524.6 968.3L1524.8 961.8L1525.1 962.7L1525.3 961.9L1525.6 969.2L1525.8 965.4L1526.1 957.6L1526.3 968.8L1526.6 973.7L1526.9 972.7L1527.1 963.9L1527.4 966.3L1527.6 967.9L1527.9 969.4L1528.1 966.2L1528.4 961.9L1528.6 968.8L1528.9 968.3L1529.1 961.1L1529.4 964.7L1529.7 967.0L1529.9 966.0L1530.2 968.0L1530.4 969.0L1530.7 968.1L1530.9 965.6L1531.2 961.0L1531.4 968.3L1531.7 971.3L1531.9 973.4L1532.2 965.9L1532.4 965.9L1532.7 971.4L1532.9 971.4L1533.2 967.3L1533.4 968.7L1533.7 963.2L1533.9 968.2L1534.2 963.0L1534.4 965.5L1534.7 965.6L1534.9 964.3L1535.2 958.1L1535.4 963.0L1535.7 967.3L1535.9 965.8L1536.1 964.6L1536.4 967.7L1536.6 968.6L1536.9 969.2L1537.1 963.0L1537.4 966.1L1537.6 964.8L1537.9 962.8L1538.1 960.4L1538.4 965.7L1538.6 962.8L1538.9 974.1L1539.1 965.7L1539.3 965.2L1539.6 964.6L1539.8 973.1L1540.1 962.5L1540.3 965.5L1540.6 963.2L1540.8 965.6L1541.0 965.9L1541.3 970.2L1541.5 960.8L1541.8 966.0L1542.0 972.1L1542.3 964.2L1542.5 965.4L1542.7 962.7L1543.0 956.3L1543.2 965.7L1543.5 970.5L1543.7 964.3L1543.9 959.2L1544.2 967.1L1544.4 966.4L1544.7 969.8L1544.9 969.5L1545.1 965.1L1545.4 967.6L1545.6 959.3L1545.9 970.3L1546.1 966.8L1546.3 970.2L1546.6 970.1L1546.8 965.0L1547.1 965.5L1547.3 962.8L1547.5 958.4L1547.8 965.6L1548.0 966.7L1548.2 962.0L1548.5 968.8L1548.7 966.5L1549.0 967.8L1549.2 963.2L1549.4 959.5L1549.7 969.0L1549.9 968.4L1550.1 965.7L1550.4 964.6L1550.6 965.1L1550.8 965.6L1551.1 964.2L1551.3 958.6L1551.5 969.1L1551.8 960.5L1552.0 964.9L1552.2 965.0L1552.5 967.2L1552.7 960.1L1552.9 970.7L1553.2 968.7L1553.4 969.1L1553.6 971.0L1553.9 963.2L1554.1 954.4L1554.3 967.5L1554.6 971.2L1554.8 970.6L1555.0 964.2L1555.3 965.9L1555.5 967.3L1555.7 959.5L1556.0 963.8L1556.2 963.9L1556.4 972.3L1556.6 963.9L1556.9 972.2L1557.1 966.4L1557.3 960.0L1557.6 974.7L1557.8 962.7L1558.0 968.7L1558.3 972.8L1558.5 964.4L1558.7 961.8L1558.9 970.3L1559.2 966.7L1559.4 961.8L1559.6 962.4L1559.9 965.0L1560.1 970.1L1560.3 965.4L1560.5 968.9L1560.8 972.7L1561.0 971.3L1561.2 971.9L1561.4 971.2L1561.7 960.5L1561.9 971.1L1562.1 967.8L1562.3 966.1L1562.6 962.5L1562.8 960.6L1563.0 962.4L1563.2 966.5L1563.5 962.2L1563.7 963.5L1563.9 964.3L1564.1 969.2L1564.4 965.5L1564.6 966.1L1564.8 971.7L1565.0 965.5L1565.3 969.0L1565.5 962.7L1565.7 968.0L1565.9 967.2L1566.2 967.4L1566.4 965.0L1566.6 962.9L1566.8 965.6L1567.0 965.0L1567.3 970.7L1567.5 970.2L1567.7 962.3L1567.9 969.2L1568.2 965.0L1568.4 968.6L1568.6 965.1L1568.8 961.3L1569.0 970.7L1569.3 968.6L1569.5 962.3L1569.7 959.8L1569.9 964.9L1570.1 962.5L1570.4 965.6L1570.6 969.3L1570.8 972.6L1571.0 965.7L1571.2 972.2L1571.4 971.4L1571.7 965.4L1571.9 960.8L1572.1 970.3L1572.3 969.4L1572.5 976.0L1572.8 972.5L1573.0 970.1L1573.2 973.5L1573.4 963.2L1573.6 967.9L1573.8 966.2L1574.1 973.8L1574.3 969.4L1574.5 955.7L1574.7 972.5L1574.9 963.9L1575.1 970.3L1575.4 965.5L1575.6 968.3L1575.8 969.8L1576.0 968.1L1576.2 963.8L1576.4 972.7L1576.6 968.9L1576.9 967.4L1577.1 970.1L1577.3 965.5L1577.5 974.6L1577.7 968.4L1577.9 968.9L1578.1 968.9L1578.4 964.1L1578.6 963.2L1578.8 968.4L1579.0 969.0L1579.2 972.7L1579.4 969.4L1579.6 963.6L1579.9 969.7L1580.1 970.8L1580.3 971.5L1580.5 969.0L1580.7 963.1L1580.9 972.2L1581.1 965.0L1581.3 970.0L1581.5 961.9L1581.8 970.7L1582.0 964.9L1582.2 972.0L1582.4 974.6L1582.6 972.3L1582.8 963.5L1583.0 964.4L1583.2 964.7L1583.4 970.5L1583.6 969.3L1583.9 968.6L1584.1 969.2L1584.3 970.2L1584.5 970.5L1584.7 974.5L1584.9 967.9L1585.1 968.9L1585.3 961.1L1585.5 963.1L1585.7 965.5L1585.9 963.7L1586.2 969.0L1586.4 972.2L1586.6 966.6L1586.8 966.4L1587.0 966.3L1587.2 968.8L1587.4 966.2L1587.6 969.9L1587.8 969.5L1588.0 969.7L1588.2 971.3L1588.4 968.5L1588.6 969.0L1588.8 975.1L1589.0 968.3L1589.3 971.5L1589.5 968.7L1589.7 966.8L1589.9 966.8L1590.1 965.5L1590.3 968.7L1590.5 966.4L1590.7 967.1L1590.9 973.3L1591.1 968.2L1591.3 973.1L1591.5 969.8L1591.7 972.1L1591.9 966.5L1592.1 969.4L1592.3 978.9L1592.5 972.1L1592.7 972.7L1592.9 969.9L1593.1 972.2L1593.3 964.6L1593.5 965.8L1593.7 970.7L1593.9 972.2L1594.1 967.6L1594.3 968.5L1594.5 967.8L1594.7 968.5L1594.9 964.7L1595.2 963.8L1595.4 969.0L1595.6 962.7L1595.8 965.7L1596.0 966.9L1596.2 965.4L1596.4 970.4L1596.6 967.8L1596.8 969.2L1597.0 965.7L1597.2 966.7L1597.4 971.5L1597.6 971.0L1597.8 967.9L1598.0 971.1L1598.2 970.4L1598.4 970.3L1598.6 975.8L1598.8 968.3L1599.0 971.4L1599.1 971.5L1599.3 969.0L1599.5 965.5L1599.7 972.6L1599.9 971.0L1600.1 970.2L1600.3 970.1L1600.5 970.2L1600.7 966.7L1600.9 971.3L1601.1 963.3L1601.3 970.1L1601.5 964.5L1601.7 968.9L1601.9 973.0L1602.1 969.3L1602.3 968.5L1602.5 972.4L1602.7 969.4L1602.9 968.9L1603.1 969.0L1603.3 976.3L1603.5 973.1L1603.7 972.4L1603.9 966.1L1604.1 973.0L1604.3 965.8L1604.5 972.6L1604.7 966.5L1604.9 978.3L1605.0 964.4L1605.2 975.6L1605.4 974.0L1605.6 964.1L1605.8 970.1L1606.0 976.6L1606.2 975.4L1606.4 964.7L1606.6 969.1L1606.8 966.7L1607.0 967.3L1607.2 968.8L1607.4 978.4L1607.6 971.8L1607.8 970.5L1608.0 970.1L1608.1 974.0L1608.3 974.1L1608.5 968.0L1608.7 977.2L1608.9 967.4L1609.1 970.6L1609.3 973.4L1609.5 978.3L1609.7 970.4L1609.9 972.9L1610.1 976.9L1610.3 974.3L1610.4 976.3L1610.6 976.0L1610.8 973.0L1611.0 974.5L1611.2 975.6L1611.4 972.0L1611.6 978.4L1611.8 964.5L1612.0 968.7L1612.2 977.9L1612.3 974.0L1612.5 969.9L1612.7 973.9L1612.9 976.7L1613.1 970.3L1613.3 975.5L1613.5 972.1L1613.7 972.2L1613.9 972.4L1614.0 977.0L1614.2 968.4L1614.4 971.3L1614.6 975.4L1614.8 968.1L1615.0 966.7L1615.2 975.2L1615.4 973.0L1615.6 972.4L1615.7 973.6L1615.9 969.3L1616.1 984.5L1616.3 969.3L1616.5 971.5L1616.7 967.7L1616.9 971.7L1617.1 979.3L1617.2 973.5L1617.4 975.8L1617.6 971.6L1617.8 980.6L1618.0 974.2L1618.2 968.7L1618.4 976.7L1618.5 972.2L1618.7 976.1L1618.9 974.3L1619.1 974.8L1619.3 974.4L1619.5 970.3L1619.7 968.0L1619.8 977.8L1620.0 973.5L1620.2 975.2L1620.4 972.3L1620.6 966.1L1620.8 969.1L1620.9 979.7L1621.1 971.1L1621.3 972.8L1621.5 968.5L1621.7 972.3L1621.9 972.9L1622.0 973.6L1622.2 974.2L1622.4 972.0L1622.6 972.3L1622.8 974.5L1623.0 975.9L1623.1 974.1L1623.3 981.6L1623.5 975.6L1623.7 975.4L1623.9 972.2L1624.1 979.0L1624.2 970.9L1624.4 968.5L1624.6 971.1L1624.8 977.5L1625.0 970.5L1625.1 980.3L1625.3 975.1L1625.5 969.2L1625.7 974.3L1625.9 982.4L1626.1 971.9L1626.2 970.1L1626.4 977.4L1626.6 980.6L1626.8 979.5L1627.0 974.2L1627.1 976.3L1627.3 976.9L1627.5 980.3L1627.7 984.3L1627.9 975.3L1628.0 981.0L1628.2 974.4L1628.4 978.2L1628.6 972.2L1628.8 972.9L1628.9 977.6L1629.1 972.4L1629.3 979.6L1629.5 973.9L1629.6 976.5L1629.8 975.9L1630.0 974.9L1630.2 976.8L1630.4 980.7L1630.5 988.8L1630.7 971.7L1630.9 977.7L1631.1 975.8L1631.3 972.9L1631.4 977.7L1631.6 973.1L1631.8 976.4L1632.0 981.7L1632.1 968.6L1632.3 977.8L1632.5 978.7L1632.7 973.1L1632.8 979.1L1633.0 978.4L1633.2 975.6L1633.4 982.0L1633.6 971.9L1633.7 979.8L1633.9 976.3L1634.1 973.0L1634.3 976.6L1634.4 976.0L1634.6 980.7L1634.8 971.4L1635.0 976.7L1635.1 975.7L1635.3 984.0L1635.5 973.1L1635.7 982.0L1635.8 970.6L1636.0 979.2L1636.2 977.3L1636.4 979.4L1636.5 975.1L1636.7 970.1L1636.9 971.8L1637.1 983.4L1637.2 979.0L1637.4 974.6L1637.6 981.9L1637.8 975.2L1637.9 975.3L1638.1 973.4L1638.3 983.2L1638.4 986.4L1638.6 974.6L1638.8 979.7L1639.0 982.6L1639.1 987.2L1639.3 968.9L1639.5 979.3L1639.7 981.4L1639.8 972.8L1640.0 980.5L1640.2 979.7L1640.3 981.9L1640.5 976.6L1640.7 980.7L1640.9 976.6L1641.0 981.6L1641.2 979.8L1641.4 977.7L1641.5 973.5L1641.7 986.1L1641.9 983.9L1642.1 983.0L1642.2 976.8L1642.4 978.1L1642.6 986.4L1642.7 982.7L1642.9 976.2L1643.1 979.9L1643.3 980.4L1643.4 979.0L1643.6 976.0L1643.8 985.1L1643.9 982.4L1644.1 979.2L1644.3 973.6L1644.4 977.8L1644.6 980.2L1644.8 983.8L1645.0 978.8L1645.1 984.9L1645.3 981.0L1645.5 977.4L1645.6 969.0L1645.8 975.8L1646.0 974.5L1646.1 980.1L1646.3 982.1L1646.5 986.5L1646.6 980.8L1646.8 976.1L1647.0 990.7L1647.2 982.3L1647.3 980.0L1647.5 980.1L1647.7 975.6L1647.8 983.9L1648.0 982.8L1648.2 987.9L1648.3 986.0L1648.5 985.1L1648.7 986.7L1648.8 980.4L1649.0 979.8L1649.2 981.5L1649.3 976.6L1649.5 981.2L1649.7 980.5L1649.8 984.7L1650.0 981.9L1650.2 974.1L1650.3 982.2L1650.5 988.0L1650.7 974.6L1650.8 979.1L1651.0 982.4L1651.2 976.8L1651.3 980.1L1651.5 982.7L1651.7 977.0L1651.8 983.8L1652.0 984.3L1652.2 977.4L1652.3 982.8L1652.5 987.3L1652.6 982.1L1652.8 984.7L1653.0 985.6L1653.1 982.0L1653.3 987.2L1653.5 984.7L1653.6 979.0L1653.8 985.4L1654.0 986.9L1654.1 986.7L1654.3 980.7L1654.5 985.4L1654.6 989.3L1654.8 984.5L1654.9 988.6L1655.1 989.1L1655.3 983.6L1655.4 986.6L1655.6 982.6L1655.8 988.4L1655.9 983.6L1656.1 981.7L1656.3 984.0L1656.4 983.8L1656.6 985.8L1656.7 986.2L1656.9 979.4L1657.1 981.6L1657.2 985.9L1657.4 986.5L1657.6 984.9L1657.7 995.6L1657.9 989.3L1658.0 984.3L1658.2 987.8L1658.4 990.4L1658.5 986.4L1658.7 977.5L1658.9 985.4L1659.0 985.2L1659.2 994.0L1659.3 977.4L1659.5 991.7L1659.7 984.6L1659.8 989.2L1660.0 984.1L1660.1 986.1L1660.3 990.2L1660.5 985.9L1660.6 990.0L1660.8 985.3L1660.9 983.9L1661.1 984.8L1661.3 983.6L1661.4 985.3L1661.6 991.6L1661.7 981.0L1661.9 979.0L1662.1 986.0L1662.2 993.2L1662.4 990.6L1662.5 991.8L1662.7 991.6L1662.9 983.2L1663.0 986.9L1663.2 975.1L1663.3 983.9L1663.5 989.1L1663.7 980.0L1663.8 977.9L1664.0 981.2L1664.1 987.7L1664.3 991.8L1664.4 997.9L1664.6 993.0L1664.8 980.5L1664.9 977.2L1665.1 987.7L1665.2 991.7L1665.4 980.3L1665.6 985.1L1665.7 985.4L1665.9 987.5L1666.0 986.7L1666.2 989.7L1666.3 992.1L1666.5 988.0L1666.7 990.9L1666.8 996.3L1667.0 983.5L1667.1 983.4L1667.3 990.1L1667.4 995.9L1667.6 988.8L1667.8 992.8L1667.9 986.9L1668.1 992.2L1668.2 985.6L1668.4 991.2L1668.5 990.1L1668.7 990.2L1668.8 994.4L1669.0 993.2L1669.2 986.1L1669.3 992.5L1669.5 981.5L1669.6 993.1L1669.8 1000.7L1669.9 991.3L1670.1 991.2L1670.2 989.4L1670.4 992.7L1670.6 987.3L1670.7 992.2L1670.9 988.2L1671.0 987.6L1671.2 990.0L1671.3 989.3L1671.5 982.1L1671.6 998.6L1671.8 990.3L1672.0 982.5L1672.1 994.5L1672.3 989.8L1672.4 990.8L1672.6 993.0L1672.7 986.2L1672.9 977.4L1673.0 989.7L1673.2 991.3L1673.3 994.6L1673.5 987.1L1673.6 989.2L1673.8 992.2L1673.9 989.1L1674.1 989.5L1674.3 991.7L1674.4 986.3L1674.6 997.5L1674.7 986.8L1674.9 990.9L1675.0 989.4L1675.2 987.8L1675.3 993.3L1675.5 995.4L1675.6 997.4L1675.8 993.6L1675.9 989.2L1676.1 994.9L1676.2 985.0L1676.4 991.5L1676.5 993.6L1676.7 993.8L1676.8 986.5L1677.0 985.0L1677.1 998.8L1677.3 989.4L1677.5 984.5L1677.6 986.3L1677.8 991.8L1677.9 996.9L1678.1 991.8L1678.2 997.1L1678.4 992.9L1678.5 994.0L1678.7 996.3L1678.8 990.4L1679.0 993.4L1679.1 990.4L1679.3 989.4L1679.4 995.1L1679.6 988.7L1679.7 992.7L1679.9 988.9L1680.0 992.0L1680.2 990.1L1680.3 997.3L1680.5 992.9L1680.6 992.9L1680.8 999.8L1680.9 980.0L1681.1 987.8L1681.2 980.8L1681.4 992.7L1681.5 994.7L1681.7 995.7L1681.8 994.1L1682.0 989.1L1682.1 1000.6L1682.3 994.4L1682.4 991.9L1682.6 988.2L1682.7 995.0L1682.9 991.0L1683.0 991.3L1683.1 994.2L1683.3 994.3L1683.4 989.8L1683.6 998.9L1683.7 989.1L1683.9 988.6L1684.0 994.9L1684.2 994.2L1684.3 994.0L1684.5 991.9L1684.6 993.9L1684.8 991.3L1684.9 986.6L1685.1 997.1L1685.2 989.5L1685.4 993.0L1685.5 997.2L1685.7 994.2L1685.8 1006.2L1686.0 988.0L1686.1 990.9L1686.2 994.7L1686.4 1000.3L1686.5 993.3L1686.7 988.1L1686.8 999.5L1687.0 990.5L1687.1 993.7L1687.3 998.5L1687.4 991.7L1687.6 992.7L1687.7 996.9L1687.9 993.9L1688.0 996.1L1688.2 990.7L1688.3 994.4L1688.4 990.2L1688.6 988.2L1688.7 1002.9L1688.9 997.2L1689.0 999.3L1689.2 991.0L1689.3 995.2L1689.5 994.5L1689.6 989.1L1689.8 997.9L1689.9 992.3L1690.0 994.7L1690.2 988.9L1690.3 1000.1L1690.5 999.1L1690.6 997.5L1690.8 991.8L1690.9 993.5L1691.1 1001.3L1691.2 994.7L1691.3 997.2L1691.5 996.7L1691.6 991.2L1691.8 1002.9L1691.9 987.4L1692.1 997.3L1692.2 995.9L1692.4 989.2L1692.5 997.9L1692.6 998.8L1692.8 996.8L1692.9 992.9L1693.1 998.6L1693.2 1001.7L1693.4 997.7L1693.5 1004.5L1693.6 1000.7L1693.8 1000.3L1693.9 1003.1L1694.1 994.1L1694.2 994.7L1694.4 999.4L1694.5 999.5L1694.6 1003.9L1694.8 1002.4L1694.9 998.1L1695.1 998.3L1695.2 996.2L1695.4 995.9L1695.5 995.5L1695.6 1001.6L1695.8 995.5L1695.9 996.1L1696.1 998.5L1696.2 995.5L1696.3 996.9L1696.5 988.2L1696.6 999.7L1696.8 996.7L1696.9 999.0L1697.1 999.8L1697.2 989.9L1697.3 1009.1L1697.5 999.1L1697.6 999.3L1697.8 990.6L1697.9 1001.5L1698.0 1000.6L1698.2 997.2L1698.3 1000.1L1698.5 1004.8L1698.6 997.6L1698.7 995.2L1698.9 1005.3L1699.0 1000.6L1699.2 998.6L1699.3 1009.9L1699.5 1000.3L1699.6 998.8L1699.7 1000.9L1699.9 997.9L1700.0 1000.7L1700.2 1000.5L1700.3 996.9L1700.4 998.7L1700.6 1001.4L1700.7 1001.7L1700.8 1002.7L1701.0 1003.6L1701.1 1001.3L1701.3 1002.5L1701.4 998.5L1701.5 999.1L1701.7 1005.0L1701.8 991.4L1702.0 1002.1L1702.1 1014.7L1702.2 992.1L1702.4 1007.3L1702.5 992.5L1702.7 1002.2L1702.8 1007.9L1702.9 1007.3L1703.1 996.5L1703.2 994.7L1703.4 994.1L1703.5 1004.0L1703.6 999.0L1703.8 1000.8L1703.9 1002.0L1704.0 1002.7L1704.2 1003.3L1704.3 1001.5L1704.5 993.6L1704.6 1007.6L1704.7 988.5L1704.9 1006.7L1705.0 998.4L1705.1 1000.3L1705.3 998.8L1705.4 999.6L1705.6 1001.2L1705.7 1000.1L1705.8 996.4L1706.0 1005.3L1706.1 998.8L1706.2 1007.7L1706.4 1000.9L1706.5 998.4L1706.7 1003.7L1706.8 1005.8L1706.9 997.5L1707.1 1000.5L1707.2 1008.4L1707.3 997.3L1707.5 998.1L1707.6 1002.8L1707.7 996.5L1707.9 990.8L1708.0 994.5L1708.2 1003.9L1708.3 1005.3L1708.4 1005.1L1708.6 1004.2L1708.7 996.7L1708.8 1005.6L1709.0 1007.8L1709.1 999.3L1709.2 1007.0L1709.4 1001.0L1709.5 1003.6L1709.6 1004.5L1709.8 995.9L1709.9 1009.7L1710.1 998.9L1710.2 1002.5L1710.3 1000.7L1710.5 1005.2L1710.6 1005.1L1710.7 1003.3L1710.9 1009.8L1711.0 1004.6L1711.1 1001.4L1711.3 989.9L1711.4 1002.1L1711.5 1002.1L1711.7 999.4L1711.8 999.5L1711.9 1006.4L1712.1 1008.5L1712.2 1012.5L1712.3 1009.1L1712.5 1000.5L1712.6 1005.0L1712.7 997.5L1712.9 1007.4L1713.0 1005.7L1713.1 1001.2L1713.3 1003.6L1713.4 1002.9L1713.5 1001.2L1713.7 1010.4L1713.8 1018.9L1713.9 1008.2L1714.1 1009.3L1714.2 1005.2L1714.3 1002.8L1714.5 1014.9L1714.6 1002.8L1714.7 1006.5L1714.9 1004.1L1715.0 1007.5L1715.1 1004.5L1715.3 1007.6L1715.4 998.9L1715.5 1004.4L1715.7 1011.4L1715.8 1000.1L1715.9 1001.9L1716.1 1011.6L1716.2 1007.1L1716.3 1010.2L1716.5 994.6L1716.6 1006.0L1716.7 999.3L1716.9 998.8L1717.0 1007.4L1717.1 1011.1L1717.3 998.4L1717.4 1000.3L1717.5 1002.8L1717.7 1005.0L1717.8 999.4L1717.9 1016.5L1718.1 1008.6L1718.2 1004.1L1718.3 1003.4L1718.4 1017.0L1718.6 1016.7L1718.7 1003.7L1718.8 1007.7L1719.0 1012.1L1719.1 1000.5L1719.2 1003.4L1719.4 1012.7L1719.5 1002.9L1719.6 1004.2L1719.8 999.9L1719.9 1002.8L1720.0 1009.7L1720.2 1002.5L1720.3 1000.2L1720.4 1003.5L1720.5 1015.2L1720.7 1007.5L1720.8 1004.0L1720.9 1007.5L1721.1 1008.9L1721.2 1007.4L1721.3 998.1L1721.5 1008.4L1721.6 1005.9L1721.7 1011.1L1721.8 1000.5L1722.0 1012.2L1722.1 1004.7L1722.2 998.9L1722.4 1013.7L1722.5 1004.8L1722.6 1009.1L1722.8 1006.6L1722.9 1012.7L1723.0 1012.8L1723.1 1012.9L1723.3 1011.0L1723.4 999.7L1723.5 999.4L1723.7 1008.6L1723.8 1003.0L1723.9 1010.0L1724.0 1008.6L1724.2 1000.9L1724.3 1002.8L1724.4 1002.4L1724.6 1003.6L1724.7 1007.0L1724.8 1011.4L1724.9 1014.6L1725.1 1003.4L1725.2 1005.4L1725.3 1015.9L1725.5 1012.7L1725.6 1009.5L1725.7 996.8L1725.8 1003.5L1726.0 1009.2L1726.1 1005.6L1726.2 1018.3L1726.4 1009.0L1726.5 1010.0L1726.6 1003.3L1726.7 1003.6L1726.9 1005.5L1727.0 1005.7L1727.1 1007.7L1727.2 1010.8L1727.4 1010.1L1727.5 1014.0L1727.6 1002.4L1727.8 1010.1L1727.9 1010.3L1728.0 1017.0L1728.1 1008.1L1728.3 1010.9L1728.4 1005.3L1728.5 1011.5L1728.6 1011.4L1728.8 1006.3L1728.9 1007.3L1729.0 1009.4L1729.1 1012.5L1729.3 1003.9L1729.4 1014.1L1729.5 1008.1L1729.7 1019.2L1729.8 1017.1L1729.9 1007.8L1730.0 1006.8L1730.2 1022.2L1730.3 1013.1L1730.4 1012.9L1730.5 1008.0L1730.7 1009.5L1730.8 1014.2L1730.9 1013.3L1731.0 1006.1L1731.2 1016.5L1731.3 1011.9L1731.4 1005.6L1731.5 1015.4L1731.7 1009.6L1731.8 1014.5L1731.9 1007.8L1732.0 1012.4L1732.2 1002.5L1732.3 1012.6L1732.4 1003.1L1732.5 1011.6L1732.7 998.1L1732.8 1010.6L1732.9 1014.6L1733.0 1013.4L1733.2 1017.0L1733.3 1005.7L1733.4 1019.0L1733.5 1019.2L1733.7 1005.1L1733.8 1007.2L1733.9 1008.4L1734.0 1011.2L1734.2 1012.3L1734.3 999.0L1734.4 1014.4L1734.5 1010.2L1734.7 1006.4L1734.8 1016.4L1734.9 1009.9L1735.0 1017.4L1735.2 1014.4L1735.3 1010.1L1735.4 1017.7L1735.5 1015.9L1735.7 1009.3L1735.8 1003.7L1735.9 1009.2L1736.0 1015.1L1736.1 1010.8L1736.3 1021.0L1736.4 1013.4L1736.5 1013.1L1736.6 1014.2L1736.8 1007.8L1736.9 1011.7L1737.0 1009.0L1737.1 1000.4L1737.3 1003.4L1737.4 1016.2L1737.5 1010.2L1737.6 1011.9L1737.8 1005.1L1737.9 1009.6L1738.0 1016.6L1738.1 1013.2L1738.2 1010.1L1738.4 1020.6L1738.5 1012.5L1738.6 1011.1L1738.7 1018.7L1738.9 1004.1L1739.0 1015.8L1739.1 1007.3L1739.2 1009.0L1739.3 1009.6L1739.5 1013.8L1739.6 1013.7L1739.7 1014.8L1739.8 1014.3L1740.0 1020.5L1740.1 1022.0L1740.2 1017.0L1740.3 1017.3L1740.4 1011.6L1740.6 1007.9L1740.7 1016.6L1740.8 1013.8L1740.9 1018.1L1741.0 1004.3L1741.2 1027.5L1741.3 1007.3L1741.4 1014.0L1741.5 1019.0L1741.7 1006.8L1741.8 1011.1L1741.9 1003.6L1742.0 1006.7L1742.1 1004.1L1742.3 1014.7L1742.4 1015.7L1742.5 1012.6L1742.6 1020.8L1742.7 1021.4L1742.9 1014.3L1743.0 1013.2L1743.1 1013.0L1743.2 1012.1L1743.3 1021.2L1743.5 1015.8L1743.6 1012.9L1743.7 1013.4L1743.8 1017.5L1743.9 1012.6L1744.1 1016.4L1744.2 1014.6L1744.3 1021.8L1744.4 1020.9L1744.5 1007.6L1744.7 1014.1L1744.8 1018.7L1744.9 1012.7L1745.0 1019.3L1745.1 1016.9L1745.3 1018.2L1745.4 1014.9L1745.5 1016.8L1745.6 1018.0L1745.7 1007.7L1745.9 1010.6L1746.0 1010.1L1746.1 1024.2L1746.2 1017.1L1746.3 1017.5L1746.5 1016.5L1746.6 1012.9L1746.7 1011.8L1746.8 1020.1L1746.9 1013.8L1747.1 1024.0L1747.2 1016.8L1747.3 1016.3L1747.4 1014.7L1747.5 1015.5L1747.7 1016.1L1747.8 1024.0L1747.9 1028.2L1748.0 1010.1L1748.1 1017.5L1748.2 1019.9L1748.4 1011.5L1748.5 1012.9L1748.6 1013.9L1748.7 1003.7L1748.8 1019.8L1749.0 1016.2L1749.1 1016.0L1749.2 1016.9L1749.3 1017.8L1749.4 1028.7L1749.5 1017.6L1749.7 1021.0L1749.8 1014.0L1749.9 1018.6L1750.0 1015.1L1750.1 1016.0L1750.3 1012.1L1750.4 1012.6L1750.5 1019.3L1750.6 1020.9L1750.7 1019.4L1750.8 1013.5L1751.0 1018.8L1751.1 1003.8L1751.2 1022.1L1751.3 1017.0L1751.4 1018.7L1751.5 1023.4L1751.7 1015.1L1751.8 1022.4L1751.9 1015.1L1752.0 1020.3L1752.1 1015.4L1752.2 1019.2L1752.4 1025.3L1752.5 1014.2L1752.6 1014.5L1752.7 1016.0L1752.8 1019.4L1752.9 1032.3L1753.1 1014.8L1753.2 1007.1L1753.3 1014.5L1753.4 1009.6L1753.5 1015.1L1753.6 1018.2L1753.8 1013.0L1753.9 1014.5L1754.0 1008.3L1754.1 1019.2L1754.2 1014.3L1754.3 1024.1L1754.5 1023.9L1754.6 1013.8L1754.7 1016.5L1754.8 1018.8L1754.9 1022.5L1755.0 1009.7L1755.1 1018.2L1755.3 1028.5L1755.4 1018.2L1755.5 1019.9L1755.6 1018.8L1755.7 1012.5L1755.8 1023.9L1756.0 1020.3L1756.1 1019.8L1756.2 1022.8L1756.3 1023.2L1756.4 1008.9L1756.5 1021.6L1756.6 1016.0L1756.8 1020.0L1756.9 1015.4L1757.0 1014.6L1757.1 1024.4L1757.2 1019.3L1757.3 1017.9L1757.5 1017.9L1757.6 1019.9L1757.7 1019.4L1757.8 1006.9L1757.9 1014.9L1758.0 1018.3L1758.1 1023.6L1758.3 1027.0L1758.4 1014.7L1758.5 1030.2L1758.6 1020.3L1758.7 1022.5L1758.8 1017.1L1758.9 1016.7L1759.1 1027.7L1759.2 1018.9L1759.3 1019.6L1759.4 1026.4L1759.5 1029.4L1759.6 1012.2L1759.7 1019.3L1759.9 1020.3L1760.0 1030.1L1760.1 1033.7L1760.2 1020.2L1760.3 1022.5L1760.4 1025.2L1760.5 1026.8L1760.6 1018.9L1760.8 1025.3L1760.9 1016.9L1761.0 1006.3L1761.1 1013.4L1761.2 1022.0L1761.3 1025.1L1761.4 1008.7L1761.6 1011.2L1761.7 1020.8L1761.8 1002.8L1761.9 1024.1L1762.0 1026.7L1762.1 1005.1L1762.2 1025.4L1762.3 1020.2L1762.5 1029.0L1762.6 1022.9L1762.7 1020.1L1762.8 1022.1L1762.9 1026.6L1763.0 1022.6L1763.1 1021.8L1763.2 1013.8L1763.4 1024.3L1763.5 1021.9L1763.6 1031.8L1763.7 1021.7L1763.8 1021.4L1763.9 1018.5L1764.0 1025.9L1764.1 1020.9L1764.3 1018.2L1764.4 1030.8L1764.5 1031.8L1764.6 1019.7L1764.7 1016.6L1764.8 1028.3L1764.9 1017.7L1765.0 1037.7L1765.1 1021.6L1765.3 1027.6L1765.4 1015.3L1765.5 1022.2L1765.6 1028.4L1765.7 1024.9L1765.8 1019.6L1765.9 1036.0L1766.0 1026.6L1766.2 1021.4L1766.3 1019.4L1766.4 1021.2L1766.5 1030.1L1766.6 1018.5L1766.7 1023.0L1766.8 1018.3L1766.9 1029.8L1767.0 1022.0L1767.2 1027.7L1767.3 1026.1L1767.4 1019.8L1767.5 1026.9L1767.6 1028.2L1767.7 1016.8L1767.8 1027.0L1767.9 1042.8L1768.0 1021.6L1768.1 1026.8L1768.3 1015.9L1768.4 1025.8L1768.5 1020.1L1768.6 1027.6L1768.7 1023.1L1768.8 1016.9L1768.9 1029.5L1769.0 1022.3L1769.1 1017.9L1769.3 1023.9L1769.4 1018.2L1769.5 1025.8L1769.6 1023.3L1769.7 1021.6L1769.8 1027.4L1769.9 1016.6L1770.0 1029.2L1770.1 1012.7L1770.2 1032.8L1770.4 1024.9L1770.5 1022.4L1770.6 1019.8L1770.7 1027.0L1770.8 1023.1L1770.9 1023.0L1771.0 1029.8L1771.1 1021.7L1771.2 1022.8L1771.3 1026.5L1771.4 1030.2L1771.6 1023.4L1771.7 1025.1L1771.8 1024.5L1771.9 1028.5L1772.0 1032.7L1772.1 1019.1L1772.2 1023.6L1772.3 1024.2L1772.4 1027.8L1772.5 1032.9L1772.6 1024.4L1772.8 1025.7L1772.9 1030.9L1773.0 1017.6L1773.1 1020.3L1773.2 1022.1L1773.3 1024.6L1773.4 1026.0L1773.5 1021.8L1773.6 1034.6L1773.7 1020.8L1773.8 1023.7L1774.0 1031.0L1774.1 1029.2L1774.2 1024.8L1774.3 1027.1L1774.4 1029.6L1774.5 1024.9L1774.6 1028.7L1774.7 1019.9L1774.8 1025.5L1774.9 1015.8L1775.0 1020.1L1775.1 1018.7L1775.2 1032.2L1775.4 1022.6L1775.5 1026.9L1775.6 1020.0L1775.7 1024.1L1775.8 1023.7L1775.9 1020.4L1776.0 1030.2L1776.1 1015.9L1776.2 1028.9L1776.3 1040.5L1776.4 1020.7L1776.5 1025.6L1776.6 1016.6L1776.8 1025.3L1776.9 1015.6L1777.0 1029.1L1777.1 1022.7L1777.2 1015.0L1777.3 1018.1L1777.4 1016.5L1777.5 1023.9L1777.6 1030.4L1777.7 1023.3L1777.8 1018.8L1777.9 1020.8L1778.0 1026.3L1778.1 1011.6L1778.3 1029.0L1778.4 1027.9L1778.5 1011.5L1778.6 1032.4L1778.7 1016.2L1778.8 1024.4L1778.9 1032.4L1779.0 1016.3L1779.1 1015.1L1779.2 1019.3L1779.3 1019.5L1779.4 1024.9L1779.5 1022.7L1779.6 1022.9L1779.7 1023.0L1779.8 1024.8L1780.0 1020.9L1780.1 1027.7L1780.2 1025.9L1780.3 1020.0L1780.4 1036.5L1780.5 1018.6L1780.6 1030.2L1780.7 1021.7L1780.8 1028.1L1780.9 1029.1L1781.0 1031.1L1781.1 1034.4L1781.2 1021.3L1781.3 1042.8L1781.4 1028.6L1781.5 1021.6L1781.6 1018.5L1781.8 1040.0L1781.9 1036.0L1782.0 1026.4L1782.1 1030.9L1782.2 1034.2L1782.3 1027.2L1782.4 1024.2L1782.5 1026.5L1782.6 1031.6L1782.7 1026.9L1782.8 1019.6L1782.9 1031.2L1783.0 1016.8L1783.1 1022.5L1783.2 1034.1L1783.3 1028.3L1783.4 1028.3L1783.5 1027.6L1783.6 1033.0L1783.7 1026.7L1783.9 1015.6L1784.0 1028.5L1784.1 1009.2L1784.2 1015.1L1784.3 1036.4L1784.4 1033.2L1784.5 1024.5L1784.6 1026.8L1784.7 1027.7L1784.8 1033.1L1784.9 1022.7L1785.0 1022.1L1785.1 1023.6L1785.2 1028.2L1785.3 1028.9L1785.4 1025.1L1785.5 1031.9L1785.6 1021.4L1785.7 1027.0L1785.8 1023.4L1785.9 1021.6L1786.0 1034.7L1786.1 1025.7L1786.3 1021.7L1786.4 1027.9L1786.5 1021.8L1786.6 1031.2L1786.7 1032.7L1786.8 1033.8L1786.9 1021.5L1787.0 1026.9L1787.1 1038.7L1787.2 1026.6L1787.3 1035.3L1787.4 1036.9L1787.5 1019.8L1787.6 1035.1L1787.7 1032.4L1787.8 1033.2L1787.9 1038.0L1788.0 1030.8L1788.1 1028.5L1788.2 1031.7L1788.3 1026.1L1788.4 1031.1L1788.5 1016.3L1788.6 1038.4L1788.7 1025.1L1788.8 1031.4L1788.9 1030.1L1789.0 1028.9L1789.1 1029.0L1789.2 1028.7L1789.4 1018.7L1789.5 1025.2L1789.6 1035.5L1789.6 1022.4" fill="none" stroke="#cc0000" stroke-width="2.7" stroke-linejoin="round"/>
<g stroke="#000" stroke-width="5.4" fill="none" stroke-linecap="butt">
<path d="M162.8 159.5V1398.2"/>
<path d="M136.5 1372.3H1791.2"/>
<path d="M136.5 162.4H162.8M136.5 335.2H162.8M136.5 508.1H162.8M136.5 680.9H162.8M136.5 853.8H162.8M136.5 1026.6H162.8M136.5 1199.5H162.8M147.5 248.8H162.8M147.5 421.7H162.8M147.5 594.5H162.8M147.5 767.3H162.8M147.5 940.2H162.8M147.5 1113.0H162.8M147.5 1285.9H162.8" stroke-width="4.9"/>
<path d="M827.1 1372.3V1398.2M1491.4 1372.3V1398.2M362.8 1372.3V1387.6M479.8 1372.3V1387.6M562.7 1372.3V1387.6M627.1 1372.3V1387.6M679.7 1372.3V1387.6M724.2 1372.3V1387.6M762.7 1372.3V1387.6M796.7 1372.3V1387.6M1027.1 1372.3V1387.6M1144.1 1372.3V1387.6M1227.0 1372.3V1387.6M1291.4 1372.3V1387.6M1344.0 1372.3V1387.6M1388.5 1372.3V1387.6M1427.0 1372.3V1387.6M1461.0 1372.3V1387.6M1691.4 1372.3V1387.6" stroke-width="4.9"/>
</g>
<g>
<path d="M1689.0 907.7L1709.3 954.2" stroke="#000" stroke-width="1.3" fill="none"/>
<path d="M1720.4 983.0L1702.1 957.5L1716.5 951.0Z" fill="#000"/>
<path d="M1681.1 1204.1L1706.0 1167.8" stroke="#000" stroke-width="1.3" fill="none"/>
<path d="M1723.0 1142.6L1699.4 1163.5L1712.5 1172.0Z" fill="#000"/>
</g>
<defs><clipPath id="oneb53_5" clipPathUnits="userSpaceOnUse"><path d="M-5 -53.50H53.50V-7.76H20.93V1.10H11.39V-7.76H-5Z"/></clipPath><clipPath id="oneb54_5" clipPathUnits="userSpaceOnUse"><path d="M-5 -54.50H54.50V-7.86H21.30V1.10H11.62V-7.86H-5Z"/></clipPath><clipPath id="oneb67_3" clipPathUnits="userSpaceOnUse"><path d="M-5 -67.30H67.30V-8.87H25.74V0.80H14.91V-8.87H-5Z"/></clipPath><clipPath id="onen49" clipPathUnits="userSpaceOnUse"><path d="M-5 -49.00H49.00V-4.86H16.65V0.00H12.32V-4.86H-5Z"/></clipPath></defs>
<g font-weight="bold" fill="#000">
<g id="t1"><text transform="translate(242.66 80.50) scale(0.9991 1.0000)" font-size="41.6" letter-spacing="2.043" stroke="#000" stroke-width="1.7" stroke-linejoin="round">Scattering on </text><text transform="translate(244.52 131.00) scale(0.9998 1.0000)" font-size="41.6" letter-spacing="2.194" stroke="#000" stroke-width="1.7" stroke-linejoin="round">LARGE-sized </text><text transform="translate(246.45 184.30) scale(1.0003 1.0000)" font-size="41.6" letter-spacing="2.036" stroke="#000" stroke-width="1.7" stroke-linejoin="round">heterogeneities </text></g>
<g id="t2"><text transform="translate(685.26 80.50) scale(0.9997 1.0000)" font-size="41.6" letter-spacing="1.993" stroke="#000" stroke-width="1.7" stroke-linejoin="round">Scattering on </text><text transform="translate(686.85 130.50) scale(1.0459 1.0000)" font-size="35.2" letter-spacing="1.825" stroke="#000" stroke-width="1.7" stroke-linejoin="round">MEDIUM</text><text transform="translate(850.84 131.20) scale(0.9997 1.0000)" font-size="41.6" letter-spacing="1.865" stroke="#000" stroke-width="1.7" stroke-linejoin="round">-sized </text><text transform="translate(686.45 184.40) scale(1.0003 1.0000)" font-size="41.6" letter-spacing="2.036" stroke="#000" stroke-width="1.7" stroke-linejoin="round">heterogeneities </text></g>
<g id="t3"><text transform="translate(1086.06 83.60) scale(0.9990 1.0000)" font-size="41.6" letter-spacing="2.027" stroke="#000" stroke-width="1.7" stroke-linejoin="round">Scattering on </text><text transform="translate(1087.62 136.20) scale(1.0303 1.0000)" font-size="37.6" letter-spacing="1.195" stroke="#000" stroke-width="1.7" stroke-linejoin="round">MICROPORES </text></g>
<g id="t4"><text transform="translate(1473.42 85.50) scale(1.0004 1.0000)" font-size="41.6" letter-spacing="2.667" stroke="#000" stroke-width="1.7" stroke-linejoin="round">Atomic-scale </text><text transform="translate(1473.15 139.00) scale(1.0002 1.0000)" font-size="41.6" letter-spacing="2.057" stroke="#000" stroke-width="1.7" stroke-linejoin="round">heterogeneities </text></g>
<g id="s1"><text transform="translate(309.21 301.50) scale(0.9493 1.0000)" font-size="53.5" stroke="#000" stroke-width="2.2" stroke-linejoin="round">30</text><text transform="translate(368.86 299.07) scale(0.9374 0.8000)" font-size="53.5" font-weight="normal">–</text><text transform="translate(399.74 301.50) scale(0.9640 1.0000)" font-size="53.5" stroke="#000" stroke-width="2.2" stroke-linejoin="round">50 </text><text transform="translate(469.83 299.70) scale(1.0212 1.0000)" font-size="50.5" stroke="#000" stroke-width="2.0" stroke-linejoin="round">nm </text><text transform="translate(443.84 371.30) scale(1.0078 1.0000)" font-size="51.8" stroke="#000" stroke-width="2.1" stroke-linejoin="miter">I </text></g>
<g id="s2"><text transform="translate(737.08 303.10) scale(0.9793 1.0000)" font-size="53.5" stroke="#000" stroke-width="2.2" stroke-linejoin="round" clip-path="url(#oneb53_5)">1</text><text transform="translate(767.69 303.60) scale(0.9261 1.0000)" font-size="53.5" stroke="#000" stroke-width="2.2" stroke-linejoin="round">0</text><text transform="translate(797.98 296.47) scale(0.9663 0.8000)" font-size="53.5" font-weight="normal">–</text><text transform="translate(832.25 303.60) scale(0.9960 1.0000)" font-size="53.5" stroke="#000" stroke-width="2.2" stroke-linejoin="round">20 </text><text transform="translate(908.46 303.50) scale(1.0583 1.0000)" font-size="50.5" stroke="#000" stroke-width="2.0" stroke-linejoin="round">nm </text><text transform="translate(846.33 376.70) scale(1.0092 1.0000)" font-size="51.8" letter-spacing="-1.016" stroke="#000" stroke-width="2.1" stroke-linejoin="miter">II </text></g>
<g id="s3"><text transform="translate(1144.77 304.40) scale(0.9894 1.0000)" font-size="53.5" stroke="#000" stroke-width="2.2" stroke-linejoin="round" clip-path="url(#oneb53_5)">1</text><text transform="translate(1177.25 299.27) scale(0.9278 0.8000)" font-size="53.5" font-weight="normal">–</text><text transform="translate(1210.95 304.40) scale(0.9259 1.0000)" font-size="53.5" stroke="#000" stroke-width="2.2" stroke-linejoin="round">2 </text><text transform="translate(1251.78 304.50) scale(1.0514 1.0000)" font-size="50.5" stroke="#000" stroke-width="2.0" stroke-linejoin="round">nm </text><text transform="translate(1212.55 373.40) scale(0.9981 1.0000)" font-size="51.8" letter-spacing="-0.247" stroke="#000" stroke-width="2.1" stroke-linejoin="miter">III </text></g>
<g id="s4"><text transform="translate(1530.11 309.80) scale(0.9832 1.0000)" font-size="50" stroke="#000" stroke-width="2.2" stroke-linejoin="round">&lt; </text><text transform="translate(1579.95 309.90) scale(0.9116 1.0000)" font-size="54.5" stroke="#000" stroke-width="2.2" stroke-linejoin="round" clip-path="url(#oneb54_5)">1 </text><text transform="translate(1625.24 309.50) scale(1.0143 1.0000)" font-size="50.5" stroke="#000" stroke-width="2.0" stroke-linejoin="round">nm </text><text transform="translate(1598.40 373.90) scale(0.9984 1.0000)" font-size="53.3" letter-spacing="-1.079" stroke="#000" stroke-width="1.9" stroke-linejoin="round">IV </text></g>
<g id="b1"><text transform="translate(193.73 968.10) scale(1.0354 1.0000)" font-size="41.5" letter-spacing="1.876" stroke="#000" stroke-width="1.7" stroke-linejoin="round">nanocrystallites </text><text transform="translate(193.32 1032.00) scale(1.0350 1.0000)" font-size="41.5" letter-spacing="1.886" stroke="#000" stroke-width="1.7" stroke-linejoin="round">intercrystalline spaces </text><text transform="translate(195.63 1091.70) scale(1.0350 1.0000)" font-size="41.5" letter-spacing="2.168" stroke="#000" stroke-width="1.7" stroke-linejoin="round">macropores </text></g>
<g id="b2"><text transform="translate(691.53 1104.30) scale(1.0348 1.0000)" font-size="41.5" letter-spacing="1.996" stroke="#000" stroke-width="1.7" stroke-linejoin="round">macropores </text><text transform="translate(692.13 1161.10) scale(1.0351 1.0000)" font-size="41.5" letter-spacing="2.218" stroke="#000" stroke-width="1.7" stroke-linejoin="round">mesopores </text></g>
<g id="b3"><text transform="translate(1105.13 1163.30) scale(1.0352 1.0000)" font-size="41.5" letter-spacing="2.006" stroke="#000" stroke-width="1.7" stroke-linejoin="round">micropores </text></g>
<g id="c4"><text transform="translate(1587.11 894.30) scale(0.9995 1.0000)" font-size="67.5" letter-spacing="1.553" stroke="#000" stroke-width="1.7" stroke-linejoin="round">AC-4 </text></g>
<g id="c6"><text transform="translate(1584.49 1265.70) scale(1.0005 1.0000)" font-size="68.5" letter-spacing="2.583" stroke="#000" stroke-width="1.7" stroke-linejoin="round">AC-6 </text></g>
<g id="xl"><text transform="translate(575.06 1533.60)" font-size="66.3" letter-spacing="3.211" stroke="#000" stroke-width="1.6" stroke-linejoin="round">Scattering vector</text><text transform="translate(1170.06 1533.60) scale(1.1013 1.0000)" font-size="66.3" stroke="#000" stroke-width="1.6" stroke-linejoin="round">, </text><text transform="translate(1213.14 1533.60) scale(1.0039 1.0000)" font-size="66.3" font-style="italic" stroke="#000" stroke-width="1.6" stroke-linejoin="round">q </text><text transform="translate(1273.99 1533.60) scale(0.8693 1.0000)" font-size="66.3" stroke="#000" stroke-width="1.6" stroke-linejoin="round">(</text><text transform="translate(1297.74 1533.80) scale(1.0891 1.0000)" font-size="67.3" stroke="#000" stroke-width="1.6" stroke-linejoin="round" clip-path="url(#oneb67_3)">1</text><text transform="translate(1339.11 1533.60) scale(1.0008 1.0000)" font-size="66.3" letter-spacing="2.169" stroke="#000" stroke-width="1.6" stroke-linejoin="round">/nm) </text></g>
<g id="yl"><text transform="translate(92.80 908.79) rotate(-90) scale(1.0004 1.0000)" font-size="70.5" letter-spacing="0.097" stroke="#000" stroke-width="1.7" stroke-linejoin="round">Intensity</text><text transform="translate(92.80 612.66) rotate(-90) scale(0.9402 1.0000)" font-size="70.5" stroke="#000" stroke-width="1.7" stroke-linejoin="round">, </text><text transform="translate(92.80 567.68) rotate(-90) scale(0.8804 1.0000)" font-size="70.5" font-style="italic" stroke="#000" stroke-width="1.7" stroke-linejoin="round">I </text><text transform="translate(92.60 533.05) rotate(-90) scale(0.9997 1.0000)" font-size="67" font-weight="normal" letter-spacing="2.033" stroke="#000" stroke-width="0.9" stroke-linejoin="round">(a.u.) </text></g>
<g id="k1"><text transform="translate(128.50 1448.60) scale(0.9839 1.0000)" font-size="48.5" font-weight="normal" stroke="#fff" stroke-width="0.7" stroke-linejoin="round" paint-order="fill stroke">0</text><text transform="translate(154.98 1448.60) scale(1.1022 1.0000)" font-size="48.5" font-weight="normal" stroke="#fff" stroke-width="0.7" stroke-linejoin="round" paint-order="fill stroke">,</text><text transform="translate(168.45 1448.80) scale(1.0850 1.0000)" font-size="49" font-weight="normal" stroke="#fff" stroke-width="0.7" stroke-linejoin="round" paint-order="fill stroke" clip-path="url(#onen49)">1 </text></g>
<g id="k2"><text transform="translate(812.28 1449.10) scale(1.1002 1.0000)" font-size="49" font-weight="normal" stroke="#fff" stroke-width="0.7" stroke-linejoin="round" paint-order="fill stroke" clip-path="url(#onen49)">1 </text></g>
<g id="k3"><text transform="translate(1464.95 1449.10) scale(1.0850 1.0000)" font-size="49" font-weight="normal" stroke="#fff" stroke-width="0.7" stroke-linejoin="round" paint-order="fill stroke" clip-path="url(#onen49)">1</text><text transform="translate(1491.88 1449.00) scale(0.9295 1.0000)" font-size="48.5" font-weight="normal" stroke="#fff" stroke-width="0.7" stroke-linejoin="round" paint-order="fill stroke">0 </text></g>
</g>
</g>
</svg>
</body></html>
